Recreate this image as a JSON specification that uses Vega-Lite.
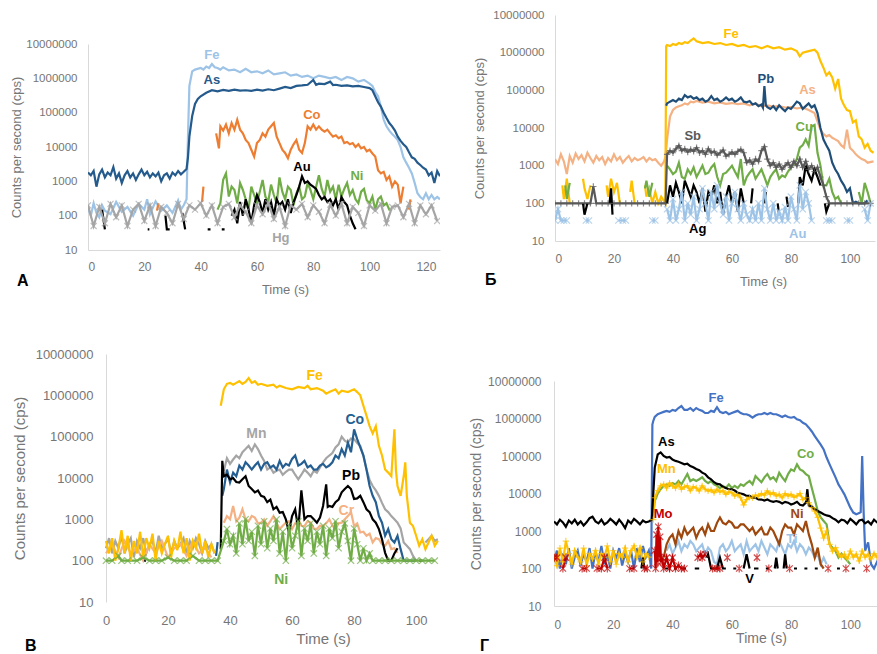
{
"$schema":"https://vega.github.io/schema/vega-lite/v6.json",
"padding":{"left":10,"top":9,"right":0,"bottom":0},
"config":{
 "view":{"stroke":null},
 "font":"Liberation Sans",
 "axis":{"grid":false,"ticks":false,"domainColor":"#d9d9d9","domainWidth":1,"labelColor":"#767676","titleColor":"#767676","labelFontSize":12,"titleFontSize":13,"titleFontWeight":"normal","labelFont":"Liberation Sans","titleFont":"Liberation Sans"},
 "legend":{"disable":true},
 "title":{"fontSize":16,"fontWeight":"bold","color":"#000000","anchor":"start","orient":"bottom","frame":"group","font":"Liberation Sans"}
},
"resolve":{"scale":{"x":"independent","y":"independent","color":"independent","shape":"independent"}},
"columns":1,
"align":"none",
"spacing":52,
"datasets":{
"A":[
{"s":"Fe","t":0,"v":160},{"s":"Fe","t":1,"v":100},{"s":"Fe","t":2,"v":230},{"s":"Fe","t":3,"v":120},{"s":"Fe","t":4,"v":90},{"s":"Fe","t":5,"v":200},{"s":"Fe","t":6,"v":140},{"s":"Fe","t":8,"v":110},{"s":"Fe","t":10,"v":250},{"s":"Fe","t":12,"v":130},{"s":"Fe","t":14,"v":180},{"s":"Fe","t":16,"v":100},{"s":"Fe","t":18,"v":220},{"s":"Fe","t":20,"v":150},{"s":"Fe","t":21,"v":300},{"s":"Fe","t":22,"v":110},{"s":"Fe","t":24,"v":260},{"s":"Fe","t":26,"v":140},{"s":"Fe","t":28,"v":200},{"s":"Fe","t":30,"v":120},{"s":"Fe","t":32,"v":280},{"s":"Fe","t":33,"v":150},{"s":"Fe","t":34,"v":200},{"s":"Fe","t":35,"v":300},{"s":"Fe","t":35.5,"v":20000},{"s":"Fe","t":36,"v":600000},{"s":"Fe","t":37,"v":1600000},{"s":"Fe","t":38,"v":1800000},{"s":"Fe","t":40,"v":2000000},{"s":"Fe","t":41,"v":1800000},{"s":"Fe","t":42,"v":2200000},{"s":"Fe","t":43,"v":2000000},{"s":"Fe","t":44,"v":2600000},{"s":"Fe","t":45,"v":2100000},{"s":"Fe","t":46,"v":2000000},{"s":"Fe","t":47,"v":1800000},{"s":"Fe","t":48,"v":2100000},{"s":"Fe","t":50,"v":1700000},{"s":"Fe","t":52,"v":1800000},{"s":"Fe","t":54,"v":1500000},{"s":"Fe","t":56,"v":1900000},{"s":"Fe","t":58,"v":1500000},{"s":"Fe","t":60,"v":1600000},{"s":"Fe","t":62,"v":1400000},{"s":"Fe","t":64,"v":1700000},{"s":"Fe","t":66,"v":1300000},{"s":"Fe","t":68,"v":1400000},{"s":"Fe","t":70,"v":1500000},{"s":"Fe","t":72,"v":1200000},{"s":"Fe","t":74,"v":1300000},{"s":"Fe","t":76,"v":1100000},{"s":"Fe","t":78,"v":1200000},{"s":"Fe","t":80,"v":1000000},{"s":"Fe","t":82,"v":1200000},{"s":"Fe","t":84,"v":1100000},{"s":"Fe","t":86,"v":1000000},{"s":"Fe","t":88,"v":1100000},{"s":"Fe","t":90,"v":900000},{"s":"Fe","t":92,"v":1100000},{"s":"Fe","t":94,"v":1000000},{"s":"Fe","t":96,"v":800000},{"s":"Fe","t":98,"v":900000},{"s":"Fe","t":100,"v":700000},{"s":"Fe","t":101,"v":600000},{"s":"Fe","t":102,"v":400000},{"s":"Fe","t":103,"v":300000},{"s":"Fe","t":104,"v":150000},{"s":"Fe","t":105,"v":63000},{"s":"Fe","t":106,"v":40000},{"s":"Fe","t":107,"v":30000},{"s":"Fe","t":108,"v":24000},{"s":"Fe","t":109,"v":20000},{"s":"Fe","t":110,"v":16000},{"s":"Fe","t":111,"v":10000},{"s":"Fe","t":112,"v":5000},{"s":"Fe","t":113,"v":3500},{"s":"Fe","t":114,"v":2500},{"s":"Fe","t":115,"v":1700},{"s":"Fe","t":116,"v":900},{"s":"Fe","t":117,"v":450},{"s":"Fe","t":118,"v":350},{"s":"Fe","t":119,"v":300},{"s":"Fe","t":120,"v":450},{"s":"Fe","t":121,"v":300},{"s":"Fe","t":122,"v":400},{"s":"Fe","t":123,"v":300},{"s":"Fe","t":124,"v":350},{"s":"Fe","t":125,"v":300},
{"s":"As","t":0,"v":1800},{"s":"As","t":1,"v":1500},{"s":"As","t":2,"v":2000},{"s":"As","t":3,"v":700},{"s":"As","t":4,"v":1600},{"s":"As","t":5,"v":2200},{"s":"As","t":6,"v":1300},{"s":"As","t":7,"v":1800},{"s":"As","t":8,"v":1500},{"s":"As","t":9,"v":2600},{"s":"As","t":10,"v":1200},{"s":"As","t":11,"v":1700},{"s":"As","t":12,"v":900},{"s":"As","t":13,"v":1500},{"s":"As","t":14,"v":2000},{"s":"As","t":15,"v":1300},{"s":"As","t":16,"v":1700},{"s":"As","t":17,"v":1100},{"s":"As","t":18,"v":1600},{"s":"As","t":19,"v":2200},{"s":"As","t":20,"v":1500},{"s":"As","t":21,"v":1900},{"s":"As","t":22,"v":1300},{"s":"As","t":23,"v":1700},{"s":"As","t":24,"v":1400},{"s":"As","t":25,"v":1800},{"s":"As","t":26,"v":1000},{"s":"As","t":27,"v":1500},{"s":"As","t":28,"v":1700},{"s":"As","t":29,"v":1200},{"s":"As","t":30,"v":1800},{"s":"As","t":31,"v":1500},{"s":"As","t":32,"v":2000},{"s":"As","t":33,"v":1600},{"s":"As","t":34,"v":1900},{"s":"As","t":35,"v":2300},{"s":"As","t":35.5,"v":5000},{"s":"As","t":36,"v":20000},{"s":"As","t":37,"v":80000},{"s":"As","t":38,"v":180000},{"s":"As","t":39,"v":250000},{"s":"As","t":40,"v":300000},{"s":"As","t":42,"v":380000},{"s":"As","t":44,"v":450000},{"s":"As","t":46,"v":420000},{"s":"As","t":48,"v":460000},{"s":"As","t":50,"v":430000},{"s":"As","t":52,"v":470000},{"s":"As","t":54,"v":440000},{"s":"As","t":56,"v":450000},{"s":"As","t":58,"v":430000},{"s":"As","t":60,"v":470000},{"s":"As","t":62,"v":440000},{"s":"As","t":64,"v":480000},{"s":"As","t":66,"v":450000},{"s":"As","t":68,"v":500000},{"s":"As","t":70,"v":560000},{"s":"As","t":72,"v":520000},{"s":"As","t":74,"v":600000},{"s":"As","t":76,"v":620000},{"s":"As","t":78,"v":650000},{"s":"As","t":80,"v":900000},{"s":"As","t":81,"v":650000},{"s":"As","t":82,"v":700000},{"s":"As","t":84,"v":680000},{"s":"As","t":86,"v":800000},{"s":"As","t":87,"v":640000},{"s":"As","t":88,"v":650000},{"s":"As","t":90,"v":600000},{"s":"As","t":92,"v":620000},{"s":"As","t":94,"v":580000},{"s":"As","t":96,"v":600000},{"s":"As","t":98,"v":560000},{"s":"As","t":100,"v":520000},{"s":"As","t":101,"v":450000},{"s":"As","t":102,"v":300000},{"s":"As","t":103,"v":200000},{"s":"As","t":104,"v":150000},{"s":"As","t":105,"v":100000},{"s":"As","t":106,"v":70000},{"s":"As","t":107,"v":50000},{"s":"As","t":108,"v":40000},{"s":"As","t":109,"v":30000},{"s":"As","t":110,"v":20000},{"s":"As","t":111,"v":15000},{"s":"As","t":112,"v":12000},{"s":"As","t":113,"v":10000},{"s":"As","t":114,"v":7000},{"s":"As","t":115,"v":5000},{"s":"As","t":116,"v":4500},{"s":"As","t":117,"v":3500},{"s":"As","t":118,"v":3000},{"s":"As","t":119,"v":2500},{"s":"As","t":120,"v":2200},{"s":"As","t":121,"v":1500},{"s":"As","t":122,"v":1800},{"s":"As","t":123,"v":900},{"s":"As","t":124,"v":2000},{"s":"As","t":125,"v":1400},
{"s":"Co","t":24,"v":null},{"s":"Co","t":24.5,"v":140},{"s":"Co","t":25,"v":230},{"s":"Co","t":25.5,"v":null},{"s":"Co","t":40,"v":null},{"s":"Co","t":40.5,"v":250},{"s":"Co","t":41,"v":700},{"s":"Co","t":41.5,"v":null},{"s":"Co","t":45.5,"v":25000},{"s":"Co","t":46.5,"v":9100},{"s":"Co","t":47,"v":40000},{"s":"Co","t":48,"v":30000},{"s":"Co","t":49,"v":45000},{"s":"Co","t":50,"v":25000},{"s":"Co","t":51,"v":50000},{"s":"Co","t":52,"v":32000},{"s":"Co","t":53,"v":62000},{"s":"Co","t":54,"v":32000},{"s":"Co","t":55,"v":25000},{"s":"Co","t":56,"v":16000},{"s":"Co","t":57,"v":13000},{"s":"Co","t":58,"v":8300},{"s":"Co","t":59,"v":5300},{"s":"Co","t":60,"v":13000},{"s":"Co","t":61,"v":16000},{"s":"Co","t":62,"v":25000},{"s":"Co","t":63,"v":20000},{"s":"Co","t":64,"v":32000},{"s":"Co","t":65,"v":40000},{"s":"Co","t":66,"v":50000},{"s":"Co","t":67,"v":20000},{"s":"Co","t":68,"v":13000},{"s":"Co","t":69,"v":8300},{"s":"Co","t":70,"v":6700},{"s":"Co","t":71,"v":4700},{"s":"Co","t":72,"v":8300},{"s":"Co","t":73,"v":12000},{"s":"Co","t":74,"v":16000},{"s":"Co","t":75,"v":8300},{"s":"Co","t":76,"v":6700},{"s":"Co","t":77,"v":13000},{"s":"Co","t":78,"v":40000},{"s":"Co","t":79,"v":32000},{"s":"Co","t":80,"v":45000},{"s":"Co","t":81,"v":32000},{"s":"Co","t":82,"v":40000},{"s":"Co","t":83,"v":32000},{"s":"Co","t":84,"v":28000},{"s":"Co","t":85,"v":32000},{"s":"Co","t":86,"v":25000},{"s":"Co","t":87,"v":20000},{"s":"Co","t":88,"v":22000},{"s":"Co","t":89,"v":18000},{"s":"Co","t":90,"v":20000},{"s":"Co","t":91,"v":13000},{"s":"Co","t":92,"v":14000},{"s":"Co","t":93,"v":12000},{"s":"Co","t":94,"v":13000},{"s":"Co","t":95,"v":10000},{"s":"Co","t":96,"v":12000},{"s":"Co","t":97,"v":9100},{"s":"Co","t":98,"v":10000},{"s":"Co","t":99,"v":7500},{"s":"Co","t":100,"v":8300},{"s":"Co","t":101,"v":6500},{"s":"Co","t":102,"v":5300},{"s":"Co","t":103,"v":2100},{"s":"Co","t":104,"v":1700},{"s":"Co","t":105,"v":1900},{"s":"Co","t":106,"v":1100},{"s":"Co","t":107,"v":1400},{"s":"Co","t":108,"v":700},{"s":"Co","t":109,"v":1000},{"s":"Co","t":110,"v":800},{"s":"Co","t":111,"v":230},{"s":"Co","t":112,"v":700},{"s":"Co","t":112.5,"v":null},{"s":"Co","t":113.5,"v":null},{"s":"Co","t":114,"v":150},{"s":"Co","t":114.5,"v":300},{"s":"Co","t":115,"v":null},
{"s":"Ni","t":46,"v":150},{"s":"Ni","t":47,"v":230},{"s":"Ni","t":48,"v":1100},{"s":"Ni","t":49,"v":1700},{"s":"Ni","t":50,"v":360},{"s":"Ni","t":51,"v":700},{"s":"Ni","t":52,"v":560},{"s":"Ni","t":53,"v":230},{"s":"Ni","t":54,"v":900},{"s":"Ni","t":55,"v":560},{"s":"Ni","t":56,"v":300},{"s":"Ni","t":57,"v":150},{"s":"Ni","t":58,"v":700},{"s":"Ni","t":59,"v":400},{"s":"Ni","t":60,"v":230},{"s":"Ni","t":61,"v":500},{"s":"Ni","t":62,"v":1100},{"s":"Ni","t":63,"v":360},{"s":"Ni","t":64,"v":250},{"s":"Ni","t":65,"v":800},{"s":"Ni","t":66,"v":400},{"s":"Ni","t":67,"v":230},{"s":"Ni","t":68,"v":1300},{"s":"Ni","t":69,"v":500},{"s":"Ni","t":70,"v":300},{"s":"Ni","t":71,"v":700},{"s":"Ni","t":72,"v":560},{"s":"Ni","t":73,"v":200},{"s":"Ni","t":74,"v":450},{"s":"Ni","t":75,"v":700},{"s":"Ni","t":76,"v":300},{"s":"Ni","t":77,"v":360},{"s":"Ni","t":78,"v":900},{"s":"Ni","t":79,"v":560},{"s":"Ni","t":80,"v":300},{"s":"Ni","t":81,"v":700},{"s":"Ni","t":82,"v":1500},{"s":"Ni","t":83,"v":600},{"s":"Ni","t":84,"v":360},{"s":"Ni","t":85,"v":1100},{"s":"Ni","t":86,"v":500},{"s":"Ni","t":87,"v":700},{"s":"Ni","t":88,"v":300},{"s":"Ni","t":89,"v":800},{"s":"Ni","t":90,"v":360},{"s":"Ni","t":91,"v":600},{"s":"Ni","t":92,"v":900},{"s":"Ni","t":93,"v":400},{"s":"Ni","t":94,"v":560},{"s":"Ni","t":95,"v":300},{"s":"Ni","t":96,"v":230},{"s":"Ni","t":97,"v":500},{"s":"Ni","t":98,"v":600},{"s":"Ni","t":99,"v":280},{"s":"Ni","t":100,"v":230},{"s":"Ni","t":101,"v":360},{"s":"Ni","t":102,"v":150},{"s":"Ni","t":103,"v":300},{"s":"Ni","t":104,"v":360},{"s":"Ni","t":105,"v":200},{"s":"Ni","t":106,"v":230},{"s":"Ni","t":107,"v":150},{"s":"Ni","t":108,"v":150},
{"s":"Au","t":4.5,"v":null},{"s":"Au","t":5,"v":150},{"s":"Au","t":6,"v":40},{"s":"Au","t":6.5,"v":null},{"s":"Au","t":21,"v":null},{"s":"Au","t":21.2,"v":40},{"s":"Au","t":21.8,"v":40},{"s":"Au","t":22,"v":null},{"s":"Au","t":27,"v":null},{"s":"Au","t":27.5,"v":100},{"s":"Au","t":28,"v":40},{"s":"Au","t":29,"v":40},{"s":"Au","t":29.5,"v":null},{"s":"Au","t":33,"v":null},{"s":"Au","t":33.5,"v":120},{"s":"Au","t":34.5,"v":40},{"s":"Au","t":35,"v":null},{"s":"Au","t":42,"v":null},{"s":"Au","t":42.5,"v":40},{"s":"Au","t":43.5,"v":40},{"s":"Au","t":44,"v":null},{"s":"Au","t":47,"v":null},{"s":"Au","t":47.5,"v":40},{"s":"Au","t":48.5,"v":40},{"s":"Au","t":49,"v":null},{"s":"Au","t":50,"v":null},{"s":"Au","t":51,"v":100},{"s":"Au","t":52,"v":150},{"s":"Au","t":53,"v":60},{"s":"Au","t":54,"v":250},{"s":"Au","t":55,"v":100},{"s":"Au","t":56,"v":300},{"s":"Au","t":57,"v":150},{"s":"Au","t":58,"v":60},{"s":"Au","t":59,"v":200},{"s":"Au","t":60,"v":400},{"s":"Au","t":61,"v":250},{"s":"Au","t":62,"v":120},{"s":"Au","t":63,"v":300},{"s":"Au","t":64,"v":150},{"s":"Au","t":65,"v":250},{"s":"Au","t":66,"v":100},{"s":"Au","t":67,"v":300},{"s":"Au","t":68,"v":200},{"s":"Au","t":69,"v":250},{"s":"Au","t":70,"v":150},{"s":"Au","t":71,"v":300},{"s":"Au","t":72,"v":120},{"s":"Au","t":73,"v":250},{"s":"Au","t":74,"v":400},{"s":"Au","t":75,"v":700},{"s":"Au","t":76,"v":1400},{"s":"Au","t":77,"v":900},{"s":"Au","t":78,"v":1000},{"s":"Au","t":79,"v":800},{"s":"Au","t":80,"v":700},{"s":"Au","t":81,"v":600},{"s":"Au","t":82,"v":400},{"s":"Au","t":83,"v":300},{"s":"Au","t":84,"v":350},{"s":"Au","t":85,"v":250},{"s":"Au","t":86,"v":300},{"s":"Au","t":87,"v":200},{"s":"Au","t":88,"v":300},{"s":"Au","t":89,"v":150},{"s":"Au","t":90,"v":350},{"s":"Au","t":91,"v":250},{"s":"Au","t":92,"v":200},{"s":"Au","t":93,"v":100},{"s":"Au","t":94,"v":60},{"s":"Au","t":95,"v":40},{"s":"Au","t":96,"v":null},{"s":"Au","t":98,"v":null},{"s":"Au","t":98.5,"v":40},{"s":"Au","t":99,"v":null},{"s":"Au","t":101,"v":null},{"s":"Au","t":101.5,"v":40},{"s":"Au","t":102,"v":null},
{"s":"Hg","t":0,"v":200},{"s":"Hg","t":2,"v":50},{"s":"Hg","t":4,"v":180},{"s":"Hg","t":6,"v":60},{"s":"Hg","t":8,"v":220},{"s":"Hg","t":10,"v":90},{"s":"Hg","t":12,"v":200},{"s":"Hg","t":14,"v":50},{"s":"Hg","t":16,"v":150},{"s":"Hg","t":18,"v":220},{"s":"Hg","t":20,"v":70},{"s":"Hg","t":22,"v":200},{"s":"Hg","t":24,"v":50},{"s":"Hg","t":26,"v":180},{"s":"Hg","t":28,"v":120},{"s":"Hg","t":30,"v":60},{"s":"Hg","t":32,"v":220},{"s":"Hg","t":34,"v":80},{"s":"Hg","t":36,"v":200},{"s":"Hg","t":38,"v":150},{"s":"Hg","t":40,"v":230},{"s":"Hg","t":42,"v":100},{"s":"Hg","t":44,"v":200},{"s":"Hg","t":46,"v":60},{"s":"Hg","t":48,"v":180},{"s":"Hg","t":50,"v":220},{"s":"Hg","t":52,"v":90},{"s":"Hg","t":54,"v":200},{"s":"Hg","t":56,"v":130},{"s":"Hg","t":58,"v":60},{"s":"Hg","t":60,"v":200},{"s":"Hg","t":62,"v":110},{"s":"Hg","t":64,"v":230},{"s":"Hg","t":66,"v":80},{"s":"Hg","t":68,"v":180},{"s":"Hg","t":70,"v":50},{"s":"Hg","t":72,"v":200},{"s":"Hg","t":74,"v":150},{"s":"Hg","t":76,"v":220},{"s":"Hg","t":78,"v":90},{"s":"Hg","t":80,"v":200},{"s":"Hg","t":82,"v":130},{"s":"Hg","t":84,"v":60},{"s":"Hg","t":86,"v":210},{"s":"Hg","t":88,"v":100},{"s":"Hg","t":90,"v":220},{"s":"Hg","t":92,"v":60},{"s":"Hg","t":94,"v":180},{"s":"Hg","t":96,"v":120},{"s":"Hg","t":98,"v":50},{"s":"Hg","t":100,"v":200},{"s":"Hg","t":102,"v":140},{"s":"Hg","t":104,"v":220},{"s":"Hg","t":106,"v":60},{"s":"Hg","t":108,"v":180},{"s":"Hg","t":110,"v":200},{"s":"Hg","t":112,"v":90},{"s":"Hg","t":114,"v":220},{"s":"Hg","t":116,"v":60},{"s":"Hg","t":118,"v":200},{"s":"Hg","t":120,"v":110},{"s":"Hg","t":122,"v":200},{"s":"Hg","t":124,"v":70}
],
"LA":[{"s":"Fe","t":44,"v":4900000},{"s":"As","t":44,"v":900000},{"s":"Co","t":79.5,"v":87000},{"s":"Au","t":76,"v":2700},{"s":"Ni","t":95.5,"v":1400},{"s":"Hg","t":68.5,"v":22}],
"B":[
{"s":"As","t":0,"v":1500},{"s":"As","t":1,"v":1100},{"s":"As","t":2,"v":2000},{"s":"As","t":3,"v":1300},{"s":"As","t":4,"v":600},{"s":"As","t":5,"v":1800},{"s":"As","t":6,"v":1200},{"s":"As","t":7,"v":2100},{"s":"As","t":8,"v":1500},{"s":"As","t":9,"v":1900},{"s":"As","t":10,"v":1300},{"s":"As","t":11,"v":2200},{"s":"As","t":12,"v":1600},{"s":"As","t":13,"v":1200},{"s":"As","t":14,"v":1800},{"s":"As","t":15,"v":1400},{"s":"As","t":16,"v":1700},{"s":"As","t":17,"v":1100},{"s":"As","t":18,"v":1600},{"s":"As","t":19,"v":1300},{"s":"As","t":20,"v":2000},{"s":"As","t":21,"v":1400},{"s":"As","t":22,"v":1700},{"s":"As","t":23,"v":1200},{"s":"As","t":24,"v":1500},{"s":"As","t":25,"v":1800},{"s":"As","t":26,"v":1300},{"s":"As","t":27,"v":1600},{"s":"As","t":28,"v":1400},{"s":"As","t":29,"v":1500},{"s":"As","t":30,"v":1700},{"s":"As","t":31,"v":1300},{"s":"As","t":32,"v":1600},{"s":"As","t":33,"v":1400},{"s":"As","t":34,"v":1500},{"s":"As","t":35,"v":1200},{"s":"As","t":36,"v":1000},{"s":"As","t":37,"v":1300},{"s":"As","t":37.5,"v":1800},{"s":"As","t":38,"v":5000},{"s":"As","t":39,"v":20000},{"s":"As","t":40,"v":30000},{"s":"As","t":41,"v":35000},{"s":"As","t":42,"v":38000},{"s":"As","t":43,"v":40000},{"s":"As","t":44,"v":45000},{"s":"As","t":45,"v":42000},{"s":"As","t":46,"v":50000},{"s":"As","t":47,"v":48000},{"s":"As","t":48,"v":52000},{"s":"As","t":50,"v":47000},{"s":"As","t":52,"v":50000},{"s":"As","t":54,"v":45000},{"s":"As","t":56,"v":48000},{"s":"As","t":58,"v":44000},{"s":"As","t":60,"v":46000},{"s":"As","t":62,"v":43000},{"s":"As","t":64,"v":45000},{"s":"As","t":66,"v":40000},{"s":"As","t":68,"v":44000},{"s":"As","t":70,"v":38000},{"s":"As","t":72,"v":40000},{"s":"As","t":74,"v":37000},{"s":"As","t":76,"v":38000},{"s":"As","t":78,"v":35000},{"s":"As","t":80,"v":36000},{"s":"As","t":82,"v":33000},{"s":"As","t":84,"v":35000},{"s":"As","t":86,"v":30000},{"s":"As","t":88,"v":25000},{"s":"As","t":89,"v":15000},{"s":"As","t":90,"v":9000},{"s":"As","t":91,"v":7000},{"s":"As","t":92,"v":6000},{"s":"As","t":93,"v":6500},{"s":"As","t":94,"v":5500},{"s":"As","t":95,"v":5000},{"s":"As","t":96,"v":4500},{"s":"As","t":97,"v":3500},{"s":"As","t":98,"v":3000},{"s":"As","t":99,"v":9000},{"s":"As","t":100,"v":3000},{"s":"As","t":101,"v":2500},{"s":"As","t":102,"v":2000},{"s":"As","t":103,"v":1700},{"s":"As","t":104,"v":1500},{"s":"As","t":105,"v":1400},{"s":"As","t":106,"v":1200},{"s":"As","t":108,"v":1300},
{"s":"Fe","t":2,"v":null},{"s":"Fe","t":2.5,"v":300},{"s":"Fe","t":3,"v":130},{"s":"Fe","t":4,"v":450},{"s":"Fe","t":5,"v":100},{"s":"Fe","t":5.5,"v":null},{"s":"Fe","t":9,"v":null},{"s":"Fe","t":9.5,"v":450},{"s":"Fe","t":10,"v":250},{"s":"Fe","t":11,"v":130},{"s":"Fe","t":12,"v":300},{"s":"Fe","t":12.5,"v":null},{"s":"Fe","t":17,"v":null},{"s":"Fe","t":17.5,"v":300},{"s":"Fe","t":18,"v":150},{"s":"Fe","t":19,"v":450},{"s":"Fe","t":20,"v":200},{"s":"Fe","t":21,"v":350},{"s":"Fe","t":22,"v":100},{"s":"Fe","t":22.5,"v":null},{"s":"Fe","t":25,"v":null},{"s":"Fe","t":25.5,"v":200},{"s":"Fe","t":26,"v":400},{"s":"Fe","t":27,"v":100},{"s":"Fe","t":27.5,"v":null},{"s":"Fe","t":30,"v":null},{"s":"Fe","t":30.5,"v":300},{"s":"Fe","t":31,"v":150},{"s":"Fe","t":32,"v":250},{"s":"Fe","t":33,"v":100},{"s":"Fe","t":34,"v":200},{"s":"Fe","t":35,"v":100},{"s":"Fe","t":36,"v":150},{"s":"Fe","t":37.4,"v":100},{"s":"Fe","t":37.7,"v":1500000},{"s":"Fe","t":38,"v":1600000},{"s":"Fe","t":39,"v":1500000},{"s":"Fe","t":40,"v":1700000},{"s":"Fe","t":41,"v":1600000},{"s":"Fe","t":42,"v":1800000},{"s":"Fe","t":43,"v":1700000},{"s":"Fe","t":44,"v":1900000},{"s":"Fe","t":45,"v":1800000},{"s":"Fe","t":46,"v":2100000},{"s":"Fe","t":47,"v":2400000},{"s":"Fe","t":48,"v":2000000},{"s":"Fe","t":49,"v":1900000},{"s":"Fe","t":50,"v":1800000},{"s":"Fe","t":52,"v":1900000},{"s":"Fe","t":54,"v":1700000},{"s":"Fe","t":56,"v":1800000},{"s":"Fe","t":58,"v":1600000},{"s":"Fe","t":60,"v":1700000},{"s":"Fe","t":62,"v":1500000},{"s":"Fe","t":64,"v":1600000},{"s":"Fe","t":66,"v":1400000},{"s":"Fe","t":68,"v":1500000},{"s":"Fe","t":70,"v":1300000},{"s":"Fe","t":72,"v":1500000},{"s":"Fe","t":74,"v":1300000},{"s":"Fe","t":76,"v":1400000},{"s":"Fe","t":78,"v":1200000},{"s":"Fe","t":80,"v":1300000},{"s":"Fe","t":82,"v":1100000},{"s":"Fe","t":83,"v":800000},{"s":"Fe","t":84,"v":1000000},{"s":"Fe","t":86,"v":1100000},{"s":"Fe","t":88,"v":1200000},{"s":"Fe","t":89,"v":1000000},{"s":"Fe","t":90,"v":600000},{"s":"Fe","t":91,"v":400000},{"s":"Fe","t":92,"v":250000},{"s":"Fe","t":93,"v":300000},{"s":"Fe","t":94,"v":220000},{"s":"Fe","t":95,"v":110000},{"s":"Fe","t":96,"v":200000},{"s":"Fe","t":97,"v":60000},{"s":"Fe","t":98,"v":40000},{"s":"Fe","t":99,"v":30000},{"s":"Fe","t":100,"v":28000},{"s":"Fe","t":101,"v":14000},{"s":"Fe","t":102,"v":16000},{"s":"Fe","t":103,"v":6000},{"s":"Fe","t":104,"v":5000},{"s":"Fe","t":105,"v":3000},{"s":"Fe","t":106,"v":3800},{"s":"Fe","t":107,"v":2500},{"s":"Fe","t":108,"v":2200},
{"s":"Pb","t":37.7,"v":39000},{"s":"Pb","t":38,"v":45000},{"s":"Pb","t":39,"v":50000},{"s":"Pb","t":40,"v":55000},{"s":"Pb","t":41,"v":50000},{"s":"Pb","t":42,"v":60000},{"s":"Pb","t":43,"v":55000},{"s":"Pb","t":44,"v":75000},{"s":"Pb","t":45,"v":65000},{"s":"Pb","t":46,"v":70000},{"s":"Pb","t":47,"v":60000},{"s":"Pb","t":48,"v":65000},{"s":"Pb","t":49,"v":55000},{"s":"Pb","t":50,"v":60000},{"s":"Pb","t":51,"v":50000},{"s":"Pb","t":52,"v":55000},{"s":"Pb","t":53,"v":70000},{"s":"Pb","t":54,"v":55000},{"s":"Pb","t":55,"v":60000},{"s":"Pb","t":56,"v":50000},{"s":"Pb","t":57,"v":55000},{"s":"Pb","t":58,"v":65000},{"s":"Pb","t":59,"v":55000},{"s":"Pb","t":60,"v":60000},{"s":"Pb","t":61,"v":50000},{"s":"Pb","t":62,"v":55000},{"s":"Pb","t":63,"v":65000},{"s":"Pb","t":64,"v":50000},{"s":"Pb","t":65,"v":48000},{"s":"Pb","t":66,"v":52000},{"s":"Pb","t":67,"v":42000},{"s":"Pb","t":68,"v":45000},{"s":"Pb","t":69,"v":38000},{"s":"Pb","t":70,"v":42000},{"s":"Pb","t":70.5,"v":35000},{"s":"Pb","t":71,"v":130000},{"s":"Pb","t":71.5,"v":40000},{"s":"Pb","t":72,"v":36000},{"s":"Pb","t":73,"v":32000},{"s":"Pb","t":74,"v":38000},{"s":"Pb","t":75,"v":30000},{"s":"Pb","t":76,"v":40000},{"s":"Pb","t":77,"v":33000},{"s":"Pb","t":78,"v":28000},{"s":"Pb","t":79,"v":35000},{"s":"Pb","t":80,"v":32000},{"s":"Pb","t":81,"v":40000},{"s":"Pb","t":82,"v":50000},{"s":"Pb","t":83,"v":45000},{"s":"Pb","t":84,"v":32000},{"s":"Pb","t":85,"v":38000},{"s":"Pb","t":86,"v":45000},{"s":"Pb","t":87,"v":35000},{"s":"Pb","t":88,"v":40000},{"s":"Pb","t":89,"v":25000},{"s":"Pb","t":90,"v":10000},{"s":"Pb","t":91,"v":5000},{"s":"Pb","t":92,"v":3500},{"s":"Pb","t":93,"v":2500},{"s":"Pb","t":94,"v":1200},{"s":"Pb","t":95,"v":800},{"s":"Pb","t":96,"v":600},{"s":"Pb","t":97,"v":400},{"s":"Pb","t":98,"v":300},{"s":"Pb","t":99,"v":200},{"s":"Pb","t":100,"v":250},{"s":"Pb","t":101,"v":100},{"s":"Pb","t":102,"v":110},{"s":"Pb","t":103,"v":100},{"s":"Pb","t":105,"v":100},{"s":"Pb","t":106,"v":120},
{"s":"Cu","t":3,"v":null},{"s":"Cu","t":3.5,"v":300},{"s":"Cu","t":4,"v":130},{"s":"Cu","t":5,"v":350},{"s":"Cu","t":5.5,"v":null},{"s":"Cu","t":30,"v":null},{"s":"Cu","t":30.5,"v":250},{"s":"Cu","t":31,"v":400},{"s":"Cu","t":32,"v":150},{"s":"Cu","t":33,"v":350},{"s":"Cu","t":33.5,"v":null},{"s":"Cu","t":37.5,"v":null},{"s":"Cu","t":38,"v":1000},{"s":"Cu","t":39,"v":800},{"s":"Cu","t":40,"v":600},{"s":"Cu","t":41,"v":700},{"s":"Cu","t":42,"v":1200},{"s":"Cu","t":43,"v":500},{"s":"Cu","t":44,"v":450},{"s":"Cu","t":45,"v":800},{"s":"Cu","t":46,"v":600},{"s":"Cu","t":47,"v":900},{"s":"Cu","t":48,"v":500},{"s":"Cu","t":49,"v":700},{"s":"Cu","t":50,"v":1000},{"s":"Cu","t":51,"v":600},{"s":"Cu","t":52,"v":650},{"s":"Cu","t":53,"v":900},{"s":"Cu","t":54,"v":1100},{"s":"Cu","t":55,"v":500},{"s":"Cu","t":56,"v":300},{"s":"Cu","t":57,"v":600},{"s":"Cu","t":58,"v":650},{"s":"Cu","t":59,"v":800},{"s":"Cu","t":60,"v":1000},{"s":"Cu","t":61,"v":700},{"s":"Cu","t":62,"v":500},{"s":"Cu","t":63,"v":1500},{"s":"Cu","t":64,"v":300},{"s":"Cu","t":65,"v":500},{"s":"Cu","t":66,"v":650},{"s":"Cu","t":67,"v":800},{"s":"Cu","t":68,"v":450},{"s":"Cu","t":69,"v":600},{"s":"Cu","t":70,"v":800},{"s":"Cu","t":71,"v":500},{"s":"Cu","t":72,"v":300},{"s":"Cu","t":73,"v":500},{"s":"Cu","t":74,"v":650},{"s":"Cu","t":75,"v":800},{"s":"Cu","t":76,"v":450},{"s":"Cu","t":77,"v":550},{"s":"Cu","t":78,"v":500},{"s":"Cu","t":79,"v":700},{"s":"Cu","t":80,"v":900},{"s":"Cu","t":81,"v":1100},{"s":"Cu","t":82,"v":1500},{"s":"Cu","t":83,"v":3000},{"s":"Cu","t":84,"v":3500},{"s":"Cu","t":85,"v":5000},{"s":"Cu","t":86,"v":3400},{"s":"Cu","t":87,"v":11000},{"s":"Cu","t":88,"v":12000},{"s":"Cu","t":89,"v":2200},{"s":"Cu","t":90,"v":1000},{"s":"Cu","t":91,"v":300},{"s":"Cu","t":92,"v":300},{"s":"Cu","t":93,"v":450},{"s":"Cu","t":94,"v":200},{"s":"Cu","t":95,"v":130},{"s":"Cu","t":96,"v":150},{"s":"Cu","t":97,"v":100},{"s":"Cu","t":98,"v":null},{"s":"Cu","t":102,"v":null},{"s":"Cu","t":103,"v":200},{"s":"Cu","t":104,"v":100},{"s":"Cu","t":105,"v":350},{"s":"Cu","t":106,"v":200},{"s":"Cu","t":107,"v":100},
{"s":"Sb","t":0,"v":100},{"s":"Sb","t":2,"v":100},{"s":"Sb","t":4,"v":100},{"s":"Sb","t":6,"v":100},{"s":"Sb","t":8,"v":100},{"s":"Sb","t":10,"v":100},{"s":"Sb","t":12,"v":100},{"s":"Sb","t":13,"v":280},{"s":"Sb","t":14,"v":100},{"s":"Sb","t":16,"v":100},{"s":"Sb","t":18,"v":100},{"s":"Sb","t":20,"v":100},{"s":"Sb","t":22,"v":100},{"s":"Sb","t":24,"v":100},{"s":"Sb","t":26,"v":100},{"s":"Sb","t":28,"v":100},{"s":"Sb","t":30,"v":100},{"s":"Sb","t":32,"v":100},{"s":"Sb","t":34,"v":100},{"s":"Sb","t":36,"v":100},{"s":"Sb","t":37.5,"v":100},{"s":"Sb","t":38,"v":2000},{"s":"Sb","t":39,"v":2500},{"s":"Sb","t":40,"v":2200},{"s":"Sb","t":41,"v":2800},{"s":"Sb","t":42,"v":3400},{"s":"Sb","t":43,"v":2500},{"s":"Sb","t":44,"v":2800},{"s":"Sb","t":45,"v":2300},{"s":"Sb","t":46,"v":2700},{"s":"Sb","t":47,"v":2400},{"s":"Sb","t":48,"v":3000},{"s":"Sb","t":49,"v":2200},{"s":"Sb","t":50,"v":2500},{"s":"Sb","t":51,"v":2000},{"s":"Sb","t":52,"v":2800},{"s":"Sb","t":53,"v":2200},{"s":"Sb","t":54,"v":2400},{"s":"Sb","t":55,"v":1900},{"s":"Sb","t":56,"v":2200},{"s":"Sb","t":57,"v":2600},{"s":"Sb","t":58,"v":1800},{"s":"Sb","t":59,"v":2000},{"s":"Sb","t":60,"v":2300},{"s":"Sb","t":61,"v":2000},{"s":"Sb","t":62,"v":2400},{"s":"Sb","t":63,"v":2700},{"s":"Sb","t":64,"v":2200},{"s":"Sb","t":65,"v":1200},{"s":"Sb","t":66,"v":1400},{"s":"Sb","t":67,"v":1100},{"s":"Sb","t":68,"v":1500},{"s":"Sb","t":69,"v":1300},{"s":"Sb","t":70,"v":2500},{"s":"Sb","t":71,"v":3200},{"s":"Sb","t":72,"v":1500},{"s":"Sb","t":73,"v":1000},{"s":"Sb","t":74,"v":1200},{"s":"Sb","t":75,"v":900},{"s":"Sb","t":76,"v":1100},{"s":"Sb","t":77,"v":800},{"s":"Sb","t":78,"v":1000},{"s":"Sb","t":79,"v":1200},{"s":"Sb","t":80,"v":900},{"s":"Sb","t":81,"v":1300},{"s":"Sb","t":82,"v":1000},{"s":"Sb","t":83,"v":1500},{"s":"Sb","t":84,"v":900},{"s":"Sb","t":85,"v":1300},{"s":"Sb","t":86,"v":800},{"s":"Sb","t":87,"v":1000},{"s":"Sb","t":88,"v":700},{"s":"Sb","t":89,"v":900},{"s":"Sb","t":90,"v":500},{"s":"Sb","t":91,"v":300},{"s":"Sb","t":92,"v":150},{"s":"Sb","t":93,"v":100},{"s":"Sb","t":95,"v":100},{"s":"Sb","t":97,"v":100},{"s":"Sb","t":99,"v":100},{"s":"Sb","t":101,"v":100},{"s":"Sb","t":103,"v":100},{"s":"Sb","t":105,"v":100},{"s":"Sb","t":107,"v":100},
{"s":"Ag","t":9,"v":null},{"s":"Ag","t":9.5,"v":100},{"s":"Ag","t":10,"v":50},{"s":"Ag","t":11,"v":100},{"s":"Ag","t":11.5,"v":null},{"s":"Ag","t":18,"v":null},{"s":"Ag","t":18.5,"v":100},{"s":"Ag","t":19,"v":250},{"s":"Ag","t":19.5,"v":50},{"s":"Ag","t":20,"v":null},{"s":"Ag","t":37.5,"v":null},{"s":"Ag","t":38,"v":100},{"s":"Ag","t":39,"v":300},{"s":"Ag","t":40,"v":150},{"s":"Ag","t":41,"v":350},{"s":"Ag","t":42,"v":200},{"s":"Ag","t":43,"v":100},{"s":"Ag","t":44,"v":400},{"s":"Ag","t":45,"v":250},{"s":"Ag","t":46,"v":150},{"s":"Ag","t":47,"v":300},{"s":"Ag","t":48,"v":200},{"s":"Ag","t":49,"v":100},{"s":"Ag","t":50,"v":250},{"s":"Ag","t":51,"v":60},{"s":"Ag","t":52,"v":200},{"s":"Ag","t":53,"v":150},{"s":"Ag","t":54,"v":300},{"s":"Ag","t":55,"v":100},{"s":"Ag","t":56,"v":200},{"s":"Ag","t":57,"v":50},{"s":"Ag","t":58,"v":150},{"s":"Ag","t":59,"v":300},{"s":"Ag","t":60,"v":100},{"s":"Ag","t":61,"v":200},{"s":"Ag","t":62,"v":60},{"s":"Ag","t":63,"v":250},{"s":"Ag","t":64,"v":100},{"s":"Ag","t":65,"v":null},{"s":"Ag","t":66.5,"v":100},{"s":"Ag","t":67,"v":250},{"s":"Ag","t":67.5,"v":null},{"s":"Ag","t":70.5,"v":null},{"s":"Ag","t":71,"v":100},{"s":"Ag","t":71.5,"v":200},{"s":"Ag","t":72,"v":null},{"s":"Ag","t":75,"v":null},{"s":"Ag","t":75.5,"v":100},{"s":"Ag","t":76,"v":50},{"s":"Ag","t":76.5,"v":null},{"s":"Ag","t":78,"v":null},{"s":"Ag","t":78.5,"v":150},{"s":"Ag","t":79,"v":80},{"s":"Ag","t":80,"v":null},{"s":"Ag","t":82,"v":null},{"s":"Ag","t":82.5,"v":100},{"s":"Ag","t":83,"v":500},{"s":"Ag","t":84,"v":300},{"s":"Ag","t":85,"v":1000},{"s":"Ag","t":86,"v":600},{"s":"Ag","t":87,"v":400},{"s":"Ag","t":88,"v":800},{"s":"Ag","t":89,"v":500},{"s":"Ag","t":90,"v":300},{"s":"Ag","t":90.5,"v":null},{"s":"Ag","t":91,"v":null},{"s":"Ag","t":91.5,"v":100},{"s":"Ag","t":92,"v":60},{"s":"Ag","t":93,"v":100},{"s":"Ag","t":93.5,"v":null},
{"s":"Au","t":0,"v":35},{"s":"Au","t":1,"v":70},{"s":"Au","t":2,"v":35},{"s":"Au","t":3,"v":35},{"s":"Au","t":4,"v":35},{"s":"Au","t":6,"v":null},{"s":"Au","t":10,"v":null},{"s":"Au","t":10.5,"v":35},{"s":"Au","t":11.5,"v":35},{"s":"Au","t":12,"v":null},{"s":"Au","t":21,"v":null},{"s":"Au","t":21.5,"v":35},{"s":"Au","t":23,"v":35},{"s":"Au","t":24,"v":35},{"s":"Au","t":25,"v":null},{"s":"Au","t":32,"v":null},{"s":"Au","t":33,"v":35},{"s":"Au","t":34,"v":35},{"s":"Au","t":35,"v":null},{"s":"Au","t":37,"v":null},{"s":"Au","t":38,"v":70},{"s":"Au","t":39,"v":35},{"s":"Au","t":40,"v":130},{"s":"Au","t":41,"v":35},{"s":"Au","t":42,"v":70},{"s":"Au","t":43,"v":200},{"s":"Au","t":44,"v":35},{"s":"Au","t":45,"v":100},{"s":"Au","t":46,"v":50},{"s":"Au","t":47,"v":150},{"s":"Au","t":48,"v":35},{"s":"Au","t":49,"v":70},{"s":"Au","t":50,"v":250},{"s":"Au","t":51,"v":100},{"s":"Au","t":52,"v":35},{"s":"Au","t":53,"v":200},{"s":"Au","t":54,"v":70},{"s":"Au","t":55,"v":300},{"s":"Au","t":56,"v":100},{"s":"Au","t":57,"v":50},{"s":"Au","t":58,"v":150},{"s":"Au","t":59,"v":35},{"s":"Au","t":60,"v":100},{"s":"Au","t":61,"v":200},{"s":"Au","t":62,"v":70},{"s":"Au","t":63,"v":35},{"s":"Au","t":64,"v":100},{"s":"Au","t":65,"v":50},{"s":"Au","t":66,"v":35},{"s":"Au","t":67,"v":70},{"s":"Au","t":68,"v":35},{"s":"Au","t":69,"v":100},{"s":"Au","t":70,"v":35},{"s":"Au","t":71,"v":250},{"s":"Au","t":72,"v":70},{"s":"Au","t":73,"v":35},{"s":"Au","t":74,"v":100},{"s":"Au","t":75,"v":35},{"s":"Au","t":76,"v":60},{"s":"Au","t":77,"v":35},{"s":"Au","t":78,"v":80},{"s":"Au","t":79,"v":35},{"s":"Au","t":80,"v":150},{"s":"Au","t":81,"v":70},{"s":"Au","t":82,"v":35},{"s":"Au","t":83,"v":300},{"s":"Au","t":84,"v":70},{"s":"Au","t":85,"v":200},{"s":"Au","t":86,"v":100},{"s":"Au","t":87,"v":35},{"s":"Au","t":88,"v":null},{"s":"Au","t":91,"v":null},{"s":"Au","t":92,"v":35},{"s":"Au","t":93,"v":35},{"s":"Au","t":94,"v":35},{"s":"Au","t":95,"v":null},{"s":"Au","t":98,"v":null},{"s":"Au","t":99,"v":35},{"s":"Au","t":100,"v":35},{"s":"Au","t":101,"v":null},{"s":"Au","t":104,"v":null},{"s":"Au","t":105,"v":70},{"s":"Au","t":106,"v":35},{"s":"Au","t":107,"v":100}
],
"LB":[{"s":"Fe","t":59.7,"v":3100000},{"s":"Pb","t":71.5,"v":200000},{"s":"As","t":85.6,"v":100000},{"s":"Cu","t":84.5,"v":10500},{"s":"Sb","t":46.7,"v":6300},{"s":"Ag","t":48.4,"v":21},{"s":"Au","t":82.3,"v":15.5}],
"V":[
{"s":"Mn","t":0,"v":200},{"s":"Mn","t":1,"v":350},{"s":"Mn","t":2,"v":150},{"s":"Mn","t":3,"v":300},{"s":"Mn","t":4,"v":200},{"s":"Mn","t":5,"v":400},{"s":"Mn","t":6,"v":150},{"s":"Mn","t":7,"v":250},{"s":"Mn","t":8,"v":350},{"s":"Mn","t":9,"v":120},{"s":"Mn","t":10,"v":300},{"s":"Mn","t":11,"v":200},{"s":"Mn","t":12,"v":350},{"s":"Mn","t":13,"v":150},{"s":"Mn","t":14,"v":250},{"s":"Mn","t":15,"v":300},{"s":"Mn","t":16,"v":150},{"s":"Mn","t":17,"v":400},{"s":"Mn","t":18,"v":200},{"s":"Mn","t":19,"v":250},{"s":"Mn","t":20,"v":350},{"s":"Mn","t":21,"v":150},{"s":"Mn","t":22,"v":300},{"s":"Mn","t":23,"v":200},{"s":"Mn","t":24,"v":250},{"s":"Mn","t":25,"v":350},{"s":"Mn","t":26,"v":150},{"s":"Mn","t":27,"v":300},{"s":"Mn","t":28,"v":200},{"s":"Mn","t":29,"v":350},{"s":"Mn","t":30,"v":250},{"s":"Mn","t":31,"v":150},{"s":"Mn","t":32,"v":300},{"s":"Mn","t":33,"v":200},{"s":"Mn","t":34,"v":250},{"s":"Mn","t":35,"v":150},{"s":"Mn","t":36,"v":null},{"s":"Mn","t":38,"v":15000},{"s":"Mn","t":39,"v":30000},{"s":"Mn","t":40,"v":22000},{"s":"Mn","t":41,"v":28000},{"s":"Mn","t":42,"v":35000},{"s":"Mn","t":43,"v":30000},{"s":"Mn","t":44,"v":42000},{"s":"Mn","t":45,"v":50000},{"s":"Mn","t":46,"v":60000},{"s":"Mn","t":47,"v":45000},{"s":"Mn","t":48,"v":65000},{"s":"Mn","t":49,"v":50000},{"s":"Mn","t":50,"v":35000},{"s":"Mn","t":51,"v":26000},{"s":"Mn","t":52,"v":16000},{"s":"Mn","t":53,"v":18000},{"s":"Mn","t":54,"v":13500},{"s":"Mn","t":55,"v":15000},{"s":"Mn","t":56,"v":16000},{"s":"Mn","t":57,"v":12000},{"s":"Mn","t":58,"v":14000},{"s":"Mn","t":59,"v":16000},{"s":"Mn","t":60,"v":16000},{"s":"Mn","t":61,"v":12000},{"s":"Mn","t":62,"v":9300},{"s":"Mn","t":63,"v":12000},{"s":"Mn","t":64,"v":16000},{"s":"Mn","t":65,"v":13500},{"s":"Mn","t":66,"v":11000},{"s":"Mn","t":67,"v":15000},{"s":"Mn","t":68,"v":13500},{"s":"Mn","t":69,"v":18000},{"s":"Mn","t":70,"v":24000},{"s":"Mn","t":71,"v":30000},{"s":"Mn","t":72,"v":35000},{"s":"Mn","t":73,"v":40000},{"s":"Mn","t":74,"v":55000},{"s":"Mn","t":75,"v":65000},{"s":"Mn","t":76,"v":100000},{"s":"Mn","t":77,"v":80000},{"s":"Mn","t":78,"v":72000},{"s":"Mn","t":79,"v":90000},{"s":"Mn","t":80,"v":87000},{"s":"Mn","t":81,"v":70000},{"s":"Mn","t":82,"v":60000},{"s":"Mn","t":83,"v":35000},{"s":"Mn","t":84,"v":16000},{"s":"Mn","t":85,"v":9000},{"s":"Mn","t":86,"v":6400},{"s":"Mn","t":87,"v":5000},{"s":"Mn","t":88,"v":3700},{"s":"Mn","t":89,"v":2500},{"s":"Mn","t":90,"v":1750},{"s":"Mn","t":91,"v":1500},{"s":"Mn","t":92,"v":1200},{"s":"Mn","t":93,"v":1000},{"s":"Mn","t":94,"v":830},{"s":"Mn","t":95,"v":600},{"s":"Mn","t":96,"v":275},{"s":"Mn","t":97,"v":230},{"s":"Mn","t":98,"v":190},{"s":"Mn","t":99,"v":130},{"s":"Mn","t":100,"v":100},{"s":"Mn","t":101,"v":null},{"s":"Mn","t":102.5,"v":null},{"s":"Mn","t":103,"v":275},{"s":"Mn","t":104,"v":330},{"s":"Mn","t":105,"v":400},{"s":"Mn","t":106,"v":300},{"s":"Mn","t":107,"v":330},
{"s":"Co","t":35,"v":null},{"s":"Co","t":35.5,"v":130},{"s":"Co","t":36,"v":280},{"s":"Co","t":36.5,"v":null},{"s":"Co","t":37.5,"v":3700},{"s":"Co","t":38,"v":5400},{"s":"Co","t":39,"v":16000},{"s":"Co","t":40,"v":7800},{"s":"Co","t":41,"v":13500},{"s":"Co","t":42,"v":11000},{"s":"Co","t":43,"v":20000},{"s":"Co","t":44,"v":16000},{"s":"Co","t":45,"v":24000},{"s":"Co","t":46,"v":20000},{"s":"Co","t":47,"v":16000},{"s":"Co","t":48,"v":20000},{"s":"Co","t":49,"v":24000},{"s":"Co","t":50,"v":16000},{"s":"Co","t":51,"v":22000},{"s":"Co","t":52,"v":24000},{"s":"Co","t":53,"v":18000},{"s":"Co","t":54,"v":20000},{"s":"Co","t":55,"v":16000},{"s":"Co","t":56,"v":26000},{"s":"Co","t":57,"v":18000},{"s":"Co","t":58,"v":22000},{"s":"Co","t":59,"v":20000},{"s":"Co","t":60,"v":29000},{"s":"Co","t":61,"v":35000},{"s":"Co","t":62,"v":20000},{"s":"Co","t":63,"v":22000},{"s":"Co","t":64,"v":26000},{"s":"Co","t":65,"v":18000},{"s":"Co","t":66,"v":20000},{"s":"Co","t":67,"v":16000},{"s":"Co","t":68,"v":16000},{"s":"Co","t":69,"v":20000},{"s":"Co","t":70,"v":22000},{"s":"Co","t":71,"v":18000},{"s":"Co","t":72,"v":20000},{"s":"Co","t":73,"v":24000},{"s":"Co","t":74,"v":35000},{"s":"Co","t":75,"v":30000},{"s":"Co","t":76,"v":50000},{"s":"Co","t":77,"v":35000},{"s":"Co","t":78,"v":72000},{"s":"Co","t":79,"v":42000},{"s":"Co","t":80,"v":150000},{"s":"Co","t":81,"v":87000},{"s":"Co","t":82,"v":55000},{"s":"Co","t":83,"v":35000},{"s":"Co","t":84,"v":16000},{"s":"Co","t":85,"v":6400},{"s":"Co","t":86,"v":3700},{"s":"Co","t":87,"v":2600},{"s":"Co","t":88,"v":1200},{"s":"Co","t":89,"v":830},{"s":"Co","t":90,"v":400},{"s":"Co","t":91,"v":580},{"s":"Co","t":92,"v":330},{"s":"Co","t":93,"v":275},{"s":"Co","t":94,"v":400},{"s":"Co","t":95,"v":190},{"s":"Co","t":96,"v":100},{"s":"Co","t":98,"v":100},{"s":"Co","t":100,"v":100},{"s":"Co","t":101,"v":null},
{"s":"Cr","t":0,"v":150},{"s":"Cr","t":2,"v":250},{"s":"Cr","t":4,"v":120},{"s":"Cr","t":6,"v":300},{"s":"Cr","t":8,"v":150},{"s":"Cr","t":10,"v":200},{"s":"Cr","t":12,"v":100},{"s":"Cr","t":14,"v":250},{"s":"Cr","t":16,"v":150},{"s":"Cr","t":18,"v":300},{"s":"Cr","t":20,"v":120},{"s":"Cr","t":22,"v":200},{"s":"Cr","t":24,"v":250},{"s":"Cr","t":26,"v":130},{"s":"Cr","t":28,"v":300},{"s":"Cr","t":30,"v":150},{"s":"Cr","t":32,"v":200},{"s":"Cr","t":34,"v":120},{"s":"Cr","t":35,"v":null},{"s":"Cr","t":38,"v":830},{"s":"Cr","t":39,"v":1200},{"s":"Cr","t":40,"v":1000},{"s":"Cr","t":41,"v":2100},{"s":"Cr","t":42,"v":900},{"s":"Cr","t":43,"v":1100},{"s":"Cr","t":44,"v":1750},{"s":"Cr","t":45,"v":1000},{"s":"Cr","t":46,"v":900},{"s":"Cr","t":47,"v":1200},{"s":"Cr","t":48,"v":1100},{"s":"Cr","t":49,"v":800},{"s":"Cr","t":50,"v":830},{"s":"Cr","t":51,"v":1000},{"s":"Cr","t":52,"v":700},{"s":"Cr","t":53,"v":900},{"s":"Cr","t":54,"v":1200},{"s":"Cr","t":55,"v":800},{"s":"Cr","t":56,"v":580},{"s":"Cr","t":57,"v":700},{"s":"Cr","t":58,"v":830},{"s":"Cr","t":59,"v":900},{"s":"Cr","t":60,"v":580},{"s":"Cr","t":61,"v":800},{"s":"Cr","t":62,"v":1000},{"s":"Cr","t":63,"v":700},{"s":"Cr","t":64,"v":690},{"s":"Cr","t":65,"v":900},{"s":"Cr","t":66,"v":830},{"s":"Cr","t":67,"v":600},{"s":"Cr","t":68,"v":580},{"s":"Cr","t":69,"v":700},{"s":"Cr","t":70,"v":690},{"s":"Cr","t":71,"v":800},{"s":"Cr","t":72,"v":1000},{"s":"Cr","t":73,"v":700},{"s":"Cr","t":74,"v":580},{"s":"Cr","t":75,"v":800},{"s":"Cr","t":76,"v":830},{"s":"Cr","t":77,"v":1000},{"s":"Cr","t":78,"v":1200},{"s":"Cr","t":79,"v":1500},{"s":"Cr","t":80,"v":690},{"s":"Cr","t":81,"v":800},{"s":"Cr","t":82,"v":480},{"s":"Cr","t":83,"v":500},{"s":"Cr","t":84,"v":400},{"s":"Cr","t":85,"v":450},{"s":"Cr","t":86,"v":275},{"s":"Cr","t":87,"v":350},{"s":"Cr","t":88,"v":330},{"s":"Cr","t":89,"v":250},{"s":"Cr","t":90,"v":230},{"s":"Cr","t":91,"v":300},{"s":"Cr","t":92,"v":190},{"s":"Cr","t":93,"v":200},{"s":"Cr","t":94,"v":155},{"s":"Cr","t":95,"v":null},
{"s":"Pb","t":12,"v":null},{"s":"Pb","t":12.3,"v":100},{"s":"Pb","t":12.9,"v":100},{"s":"Pb","t":13.2,"v":null},{"s":"Pb","t":36.5,"v":null},{"s":"Pb","t":37,"v":190},{"s":"Pb","t":37.5,"v":26000},{"s":"Pb","t":38,"v":11000},{"s":"Pb","t":39,"v":12000},{"s":"Pb","t":40,"v":9300},{"s":"Pb","t":41,"v":10000},{"s":"Pb","t":42,"v":8000},{"s":"Pb","t":43,"v":7800},{"s":"Pb","t":44,"v":9300},{"s":"Pb","t":45,"v":11000},{"s":"Pb","t":46,"v":6400},{"s":"Pb","t":47,"v":5400},{"s":"Pb","t":48,"v":4500},{"s":"Pb","t":49,"v":5000},{"s":"Pb","t":50,"v":3700},{"s":"Pb","t":51,"v":3500},{"s":"Pb","t":52,"v":2600},{"s":"Pb","t":53,"v":3000},{"s":"Pb","t":54,"v":1750},{"s":"Pb","t":55,"v":2000},{"s":"Pb","t":56,"v":1450},{"s":"Pb","t":57,"v":1500},{"s":"Pb","t":58,"v":1000},{"s":"Pb","t":59,"v":480},{"s":"Pb","t":60,"v":1200},{"s":"Pb","t":61,"v":1750},{"s":"Pb","t":62,"v":580},{"s":"Pb","t":63,"v":5000},{"s":"Pb","t":64,"v":1000},{"s":"Pb","t":65,"v":1200},{"s":"Pb","t":66,"v":1200},{"s":"Pb","t":67,"v":1000},{"s":"Pb","t":68,"v":830},{"s":"Pb","t":69,"v":1100},{"s":"Pb","t":70,"v":2100},{"s":"Pb","t":71,"v":7000},{"s":"Pb","t":71.5,"v":2000},{"s":"Pb","t":72,"v":2100},{"s":"Pb","t":73,"v":2000},{"s":"Pb","t":74,"v":2600},{"s":"Pb","t":75,"v":3000},{"s":"Pb","t":76,"v":4500},{"s":"Pb","t":77,"v":5400},{"s":"Pb","t":78,"v":6400},{"s":"Pb","t":79,"v":5400},{"s":"Pb","t":80,"v":3100},{"s":"Pb","t":81,"v":3200},{"s":"Pb","t":82,"v":3700},{"s":"Pb","t":83,"v":2600},{"s":"Pb","t":84,"v":1750},{"s":"Pb","t":85,"v":1500},{"s":"Pb","t":86,"v":1000},{"s":"Pb","t":87,"v":830},{"s":"Pb","t":88,"v":580},{"s":"Pb","t":89,"v":330},{"s":"Pb","t":90,"v":155},{"s":"Pb","t":91,"v":100},{"s":"Pb","t":92,"v":100},{"s":"Pb","t":93,"v":150},{"s":"Pb","t":94,"v":200},{"s":"Pb","t":94.5,"v":null},{"s":"Pb","t":100.5,"v":null},{"s":"Pb","t":101,"v":100},{"s":"Pb","t":102,"v":100},{"s":"Pb","t":102.5,"v":null},
{"s":"Ni","t":0,"v":100},{"s":"Ni","t":2,"v":100},{"s":"Ni","t":4,"v":130},{"s":"Ni","t":5,"v":100},{"s":"Ni","t":7,"v":100},{"s":"Ni","t":10,"v":100},{"s":"Ni","t":12,"v":120},{"s":"Ni","t":14,"v":100},{"s":"Ni","t":16,"v":100},{"s":"Ni","t":18,"v":100},{"s":"Ni","t":20,"v":120},{"s":"Ni","t":22,"v":100},{"s":"Ni","t":24,"v":100},{"s":"Ni","t":26,"v":100},{"s":"Ni","t":28,"v":130},{"s":"Ni","t":30,"v":100},{"s":"Ni","t":32,"v":100},{"s":"Ni","t":34,"v":100},{"s":"Ni","t":36,"v":100},{"s":"Ni","t":38,"v":300},{"s":"Ni","t":39,"v":580},{"s":"Ni","t":40,"v":250},{"s":"Ni","t":41,"v":400},{"s":"Ni","t":42,"v":150},{"s":"Ni","t":43,"v":800},{"s":"Ni","t":44,"v":250},{"s":"Ni","t":45,"v":1000},{"s":"Ni","t":46,"v":300},{"s":"Ni","t":47,"v":500},{"s":"Ni","t":48,"v":130},{"s":"Ni","t":49,"v":700},{"s":"Ni","t":50,"v":250},{"s":"Ni","t":51,"v":900},{"s":"Ni","t":52,"v":200},{"s":"Ni","t":53,"v":600},{"s":"Ni","t":54,"v":300},{"s":"Ni","t":55,"v":1000},{"s":"Ni","t":56,"v":150},{"s":"Ni","t":57,"v":500},{"s":"Ni","t":58,"v":100},{"s":"Ni","t":59,"v":700},{"s":"Ni","t":60,"v":200},{"s":"Ni","t":61,"v":400},{"s":"Ni","t":62,"v":900},{"s":"Ni","t":63,"v":130},{"s":"Ni","t":64,"v":600},{"s":"Ni","t":65,"v":300},{"s":"Ni","t":66,"v":800},{"s":"Ni","t":67,"v":150},{"s":"Ni","t":68,"v":500},{"s":"Ni","t":69,"v":250},{"s":"Ni","t":70,"v":700},{"s":"Ni","t":71,"v":130},{"s":"Ni","t":72,"v":600},{"s":"Ni","t":73,"v":350},{"s":"Ni","t":74,"v":900},{"s":"Ni","t":75,"v":200},{"s":"Ni","t":76,"v":500},{"s":"Ni","t":77,"v":800},{"s":"Ni","t":78,"v":300},{"s":"Ni","t":79,"v":100},{"s":"Ni","t":80,"v":600},{"s":"Ni","t":81,"v":250},{"s":"Ni","t":82,"v":100},{"s":"Ni","t":83,"v":200},{"s":"Ni","t":84,"v":100},{"s":"Ni","t":85,"v":150},{"s":"Ni","t":86,"v":100},{"s":"Ni","t":88,"v":100},{"s":"Ni","t":90,"v":100},{"s":"Ni","t":92,"v":100},{"s":"Ni","t":94,"v":100},{"s":"Ni","t":96,"v":100},{"s":"Ni","t":98,"v":100},{"s":"Ni","t":100,"v":100},{"s":"Ni","t":102,"v":100},{"s":"Ni","t":104,"v":100},{"s":"Ni","t":106,"v":100},
{"s":"Fe","t":0,"v":300},{"s":"Fe","t":1,"v":150},{"s":"Fe","t":2,"v":350},{"s":"Fe","t":3,"v":100},{"s":"Fe","t":4,"v":200},{"s":"Fe","t":5,"v":550},{"s":"Fe","t":6,"v":150},{"s":"Fe","t":7,"v":400},{"s":"Fe","t":8,"v":100},{"s":"Fe","t":9,"v":300},{"s":"Fe","t":10,"v":150},{"s":"Fe","t":11,"v":500},{"s":"Fe","t":12,"v":120},{"s":"Fe","t":13,"v":350},{"s":"Fe","t":14,"v":200},{"s":"Fe","t":15,"v":450},{"s":"Fe","t":16,"v":100},{"s":"Fe","t":17,"v":300},{"s":"Fe","t":18,"v":150},{"s":"Fe","t":19,"v":250},{"s":"Fe","t":20,"v":400},{"s":"Fe","t":21,"v":120},{"s":"Fe","t":22,"v":300},{"s":"Fe","t":23,"v":180},{"s":"Fe","t":24,"v":500},{"s":"Fe","t":25,"v":150},{"s":"Fe","t":26,"v":350},{"s":"Fe","t":27,"v":100},{"s":"Fe","t":28,"v":300},{"s":"Fe","t":29,"v":200},{"s":"Fe","t":30,"v":450},{"s":"Fe","t":31,"v":150},{"s":"Fe","t":32,"v":300},{"s":"Fe","t":33,"v":120},{"s":"Fe","t":34,"v":250},{"s":"Fe","t":35,"v":150},{"s":"Fe","t":36,"v":null},{"s":"Fe","t":37,"v":560000},{"s":"Fe","t":38,"v":1400000},{"s":"Fe","t":39,"v":1900000},{"s":"Fe","t":40,"v":2000000},{"s":"Fe","t":41,"v":1800000},{"s":"Fe","t":42,"v":2000000},{"s":"Fe","t":43,"v":2200000},{"s":"Fe","t":44,"v":1900000},{"s":"Fe","t":45,"v":2100000},{"s":"Fe","t":46,"v":2600000},{"s":"Fe","t":47,"v":2000000},{"s":"Fe","t":48,"v":2200000},{"s":"Fe","t":49,"v":1800000},{"s":"Fe","t":50,"v":1900000},{"s":"Fe","t":52,"v":1700000},{"s":"Fe","t":54,"v":1800000},{"s":"Fe","t":55,"v":1550000},{"s":"Fe","t":56,"v":1700000},{"s":"Fe","t":58,"v":1500000},{"s":"Fe","t":60,"v":1400000},{"s":"Fe","t":62,"v":1600000},{"s":"Fe","t":64,"v":1500000},{"s":"Fe","t":65,"v":1700000},{"s":"Fe","t":66,"v":1400000},{"s":"Fe","t":68,"v":1500000},{"s":"Fe","t":70,"v":1300000},{"s":"Fe","t":71,"v":1100000},{"s":"Fe","t":72,"v":1200000},{"s":"Fe","t":74,"v":1400000},{"s":"Fe","t":75,"v":1100000},{"s":"Fe","t":76,"v":1300000},{"s":"Fe","t":78,"v":1200000},{"s":"Fe","t":80,"v":1400000},{"s":"Fe","t":81,"v":1200000},{"s":"Fe","t":82,"v":1000000},{"s":"Fe","t":83,"v":560000},{"s":"Fe","t":84,"v":320000},{"s":"Fe","t":85,"v":180000},{"s":"Fe","t":86,"v":120000},{"s":"Fe","t":87,"v":180000},{"s":"Fe","t":88,"v":60000},{"s":"Fe","t":89,"v":35000},{"s":"Fe","t":90,"v":16000},{"s":"Fe","t":91,"v":13500},{"s":"Fe","t":92,"v":11000},{"s":"Fe","t":93,"v":150000},{"s":"Fe","t":93.5,"v":15000},{"s":"Fe","t":94,"v":6400},{"s":"Fe","t":95,"v":3700},{"s":"Fe","t":96,"v":11000},{"s":"Fe","t":96.5,"v":24000},{"s":"Fe","t":97,"v":3700},{"s":"Fe","t":98,"v":830},{"s":"Fe","t":99,"v":690},{"s":"Fe","t":100,"v":400},{"s":"Fe","t":101,"v":230},{"s":"Fe","t":102,"v":330},{"s":"Fe","t":103,"v":190},{"s":"Fe","t":104,"v":275},{"s":"Fe","t":105,"v":400},{"s":"Fe","t":106,"v":230},{"s":"Fe","t":107,"v":300}
],
"LV":[{"s":"Fe","t":67.3,"v":2900000},{"s":"Co","t":80.2,"v":260000},{"s":"Mn","t":48.5,"v":115000},{"s":"Pb","t":79,"v":11000},{"s":"Cr","t":77.5,"v":1600},{"s":"Ni","t":56.5,"v":35}],
"G":[
{"s":"Fe","t":0,"v":150},{"s":"Fe","t":1,"v":300},{"s":"Fe","t":2,"v":100},{"s":"Fe","t":3,"v":250},{"s":"Fe","t":4,"v":130},{"s":"Fe","t":5,"v":350},{"s":"Fe","t":6,"v":100},{"s":"Fe","t":7,"v":200},{"s":"Fe","t":8,"v":300},{"s":"Fe","t":9,"v":120},{"s":"Fe","t":10,"v":250},{"s":"Fe","t":11,"v":150},{"s":"Fe","t":12,"v":350},{"s":"Fe","t":13,"v":100},{"s":"Fe","t":14,"v":280},{"s":"Fe","t":15,"v":150},{"s":"Fe","t":16,"v":400},{"s":"Fe","t":17,"v":130},{"s":"Fe","t":18,"v":250},{"s":"Fe","t":19,"v":100},{"s":"Fe","t":20,"v":300},{"s":"Fe","t":21,"v":180},{"s":"Fe","t":22,"v":350},{"s":"Fe","t":23,"v":120},{"s":"Fe","t":24,"v":250},{"s":"Fe","t":25,"v":150},{"s":"Fe","t":26,"v":300},{"s":"Fe","t":27,"v":100},{"s":"Fe","t":28,"v":350},{"s":"Fe","t":29,"v":150},{"s":"Fe","t":30,"v":400},{"s":"Fe","t":31,"v":200},{"s":"Fe","t":32,"v":300},{"s":"Fe","t":32.8,"v":100},{"s":"Fe","t":33.2,"v":690000},{"s":"Fe","t":33.5,"v":860000},{"s":"Fe","t":34,"v":1100000},{"s":"Fe","t":35,"v":1300000},{"s":"Fe","t":36,"v":1400000},{"s":"Fe","t":37,"v":1500000},{"s":"Fe","t":38,"v":1600000},{"s":"Fe","t":39,"v":1500000},{"s":"Fe","t":40,"v":1700000},{"s":"Fe","t":41,"v":1600000},{"s":"Fe","t":42,"v":1900000},{"s":"Fe","t":43,"v":2150000},{"s":"Fe","t":44,"v":1700000},{"s":"Fe","t":45,"v":1700000},{"s":"Fe","t":46,"v":1900000},{"s":"Fe","t":47,"v":1600000},{"s":"Fe","t":48,"v":1900000},{"s":"Fe","t":49,"v":1700000},{"s":"Fe","t":50,"v":1600000},{"s":"Fe","t":51,"v":1400000},{"s":"Fe","t":52,"v":1400000},{"s":"Fe","t":53,"v":1600000},{"s":"Fe","t":54,"v":1500000},{"s":"Fe","t":55,"v":2000000},{"s":"Fe","t":56,"v":1500000},{"s":"Fe","t":57,"v":1400000},{"s":"Fe","t":58,"v":1500000},{"s":"Fe","t":59,"v":1300000},{"s":"Fe","t":60,"v":1400000},{"s":"Fe","t":61,"v":1500000},{"s":"Fe","t":62,"v":1600000},{"s":"Fe","t":63,"v":1400000},{"s":"Fe","t":64,"v":1300000},{"s":"Fe","t":65,"v":1300000},{"s":"Fe","t":66,"v":1200000},{"s":"Fe","t":67,"v":1050000},{"s":"Fe","t":68,"v":1200000},{"s":"Fe","t":69,"v":1300000},{"s":"Fe","t":70,"v":1300000},{"s":"Fe","t":71,"v":1400000},{"s":"Fe","t":72,"v":1300000},{"s":"Fe","t":73,"v":1400000},{"s":"Fe","t":74,"v":1300000},{"s":"Fe","t":75,"v":1300000},{"s":"Fe","t":76,"v":1200000},{"s":"Fe","t":77,"v":1100000},{"s":"Fe","t":78,"v":1200000},{"s":"Fe","t":79,"v":1100000},{"s":"Fe","t":80,"v":1050000},{"s":"Fe","t":81,"v":1100000},{"s":"Fe","t":82,"v":950000},{"s":"Fe","t":83,"v":900000},{"s":"Fe","t":84,"v":770000},{"s":"Fe","t":85,"v":700000},{"s":"Fe","t":86,"v":570000},{"s":"Fe","t":87,"v":450000},{"s":"Fe","t":88,"v":340000},{"s":"Fe","t":89,"v":260000},{"s":"Fe","t":90,"v":200000},{"s":"Fe","t":91,"v":150000},{"s":"Fe","t":92,"v":91000},{"s":"Fe","t":93,"v":60000},{"s":"Fe","t":94,"v":40000},{"s":"Fe","t":95,"v":27000},{"s":"Fe","t":96,"v":17500},{"s":"Fe","t":97,"v":13000},{"s":"Fe","t":98,"v":9500},{"s":"Fe","t":99,"v":6300},{"s":"Fe","t":100,"v":4200},{"s":"Fe","t":101,"v":3100},{"s":"Fe","t":102,"v":2800},{"s":"Fe","t":103,"v":3000},{"s":"Fe","t":103.5,"v":3200},{"s":"Fe","t":104,"v":100000},{"s":"Fe","t":104.5,"v":3000},{"s":"Fe","t":105,"v":300},{"s":"Fe","t":106,"v":500},{"s":"Fe","t":107,"v":130},{"s":"Fe","t":108,"v":100},{"s":"Fe","t":109,"v":150},{"s":"Fe","t":110,"v":100},
{"s":"Ti","t":37,"v":null},{"s":"Ti","t":38,"v":300},{"s":"Ti","t":39,"v":440},{"s":"Ti","t":40,"v":250},{"s":"Ti","t":41,"v":360},{"s":"Ti","t":42,"v":540},{"s":"Ti","t":43,"v":290},{"s":"Ti","t":44,"v":440},{"s":"Ti","t":45,"v":360},{"s":"Ti","t":46,"v":540},{"s":"Ti","t":47,"v":440},{"s":"Ti","t":48,"v":290},{"s":"Ti","t":49,"v":360},{"s":"Ti","t":50,"v":440},{"s":"Ti","t":51,"v":240},{"s":"Ti","t":52,"v":360},{"s":"Ti","t":53,"v":290},{"s":"Ti","t":54,"v":150},{"s":"Ti","t":55,"v":130},{"s":"Ti","t":56,"v":360},{"s":"Ti","t":57,"v":440},{"s":"Ti","t":58,"v":290},{"s":"Ti","t":59,"v":360},{"s":"Ti","t":60,"v":540},{"s":"Ti","t":61,"v":290},{"s":"Ti","t":62,"v":360},{"s":"Ti","t":63,"v":440},{"s":"Ti","t":64,"v":240},{"s":"Ti","t":65,"v":540},{"s":"Ti","t":66,"v":290},{"s":"Ti","t":67,"v":360},{"s":"Ti","t":68,"v":440},{"s":"Ti","t":69,"v":290},{"s":"Ti","t":70,"v":540},{"s":"Ti","t":71,"v":360},{"s":"Ti","t":72,"v":240},{"s":"Ti","t":73,"v":440},{"s":"Ti","t":74,"v":360},{"s":"Ti","t":75,"v":290},{"s":"Ti","t":76,"v":540},{"s":"Ti","t":77,"v":360},{"s":"Ti","t":78,"v":240},{"s":"Ti","t":79,"v":440},{"s":"Ti","t":80,"v":360},{"s":"Ti","t":81,"v":540},{"s":"Ti","t":82,"v":290},{"s":"Ti","t":83,"v":440},{"s":"Ti","t":84,"v":360},{"s":"Ti","t":85,"v":240},{"s":"Ti","t":86,"v":360},{"s":"Ti","t":87,"v":290},{"s":"Ti","t":88,"v":195},{"s":"Ti","t":89,"v":240},{"s":"Ti","t":90,"v":130},{"s":"Ti","t":91,"v":195},{"s":"Ti","t":92,"v":130},{"s":"Ti","t":93,"v":null},
{"s":"Ni","t":36,"v":null},{"s":"Ni","t":37,"v":195},{"s":"Ni","t":38,"v":440},{"s":"Ni","t":39,"v":660},{"s":"Ni","t":40,"v":810},{"s":"Ni","t":41,"v":440},{"s":"Ni","t":42,"v":1000},{"s":"Ni","t":43,"v":660},{"s":"Ni","t":44,"v":1230},{"s":"Ni","t":45,"v":810},{"s":"Ni","t":46,"v":1000},{"s":"Ni","t":47,"v":1230},{"s":"Ni","t":48,"v":660},{"s":"Ni","t":49,"v":1000},{"s":"Ni","t":50,"v":1230},{"s":"Ni","t":51,"v":810},{"s":"Ni","t":52,"v":1500},{"s":"Ni","t":53,"v":1000},{"s":"Ni","t":54,"v":1000},{"s":"Ni","t":55,"v":1650},{"s":"Ni","t":56,"v":2300},{"s":"Ni","t":57,"v":1650},{"s":"Ni","t":58,"v":1500},{"s":"Ni","t":59,"v":1850},{"s":"Ni","t":60,"v":1650},{"s":"Ni","t":61,"v":1230},{"s":"Ni","t":62,"v":1230},{"s":"Ni","t":63,"v":1500},{"s":"Ni","t":64,"v":1500},{"s":"Ni","t":65,"v":1230},{"s":"Ni","t":66,"v":1000},{"s":"Ni","t":67,"v":1230},{"s":"Ni","t":68,"v":810},{"s":"Ni","t":69,"v":1000},{"s":"Ni","t":70,"v":1230},{"s":"Ni","t":71,"v":810},{"s":"Ni","t":72,"v":810},{"s":"Ni","t":73,"v":1230},{"s":"Ni","t":74,"v":1000},{"s":"Ni","t":75,"v":660},{"s":"Ni","t":76,"v":440},{"s":"Ni","t":77,"v":1000},{"s":"Ni","t":78,"v":1500},{"s":"Ni","t":79,"v":1230},{"s":"Ni","t":80,"v":1230},{"s":"Ni","t":81,"v":810},{"s":"Ni","t":82,"v":1500},{"s":"Ni","t":83,"v":1230},{"s":"Ni","t":84,"v":1000},{"s":"Ni","t":85,"v":1850},{"s":"Ni","t":86,"v":810},{"s":"Ni","t":87,"v":440},{"s":"Ni","t":88,"v":195},{"s":"Ni","t":89,"v":360},{"s":"Ni","t":90,"v":130},{"s":"Ni","t":91,"v":100},{"s":"Ni","t":91.5,"v":null},
{"s":"Co","t":33.5,"v":3000},{"s":"Co","t":34,"v":6300},{"s":"Co","t":35,"v":10000},{"s":"Co","t":36,"v":13000},{"s":"Co","t":37,"v":16000},{"s":"Co","t":38,"v":17500},{"s":"Co","t":39,"v":16000},{"s":"Co","t":40,"v":19000},{"s":"Co","t":41,"v":17500},{"s":"Co","t":42,"v":21500},{"s":"Co","t":43,"v":17500},{"s":"Co","t":44,"v":24000},{"s":"Co","t":45,"v":33000},{"s":"Co","t":46,"v":21500},{"s":"Co","t":47,"v":24000},{"s":"Co","t":48,"v":21500},{"s":"Co","t":49,"v":24000},{"s":"Co","t":50,"v":27000},{"s":"Co","t":51,"v":21500},{"s":"Co","t":52,"v":19000},{"s":"Co","t":53,"v":21500},{"s":"Co","t":54,"v":17500},{"s":"Co","t":55,"v":16000},{"s":"Co","t":56,"v":14000},{"s":"Co","t":57,"v":16000},{"s":"Co","t":58,"v":14000},{"s":"Co","t":59,"v":17500},{"s":"Co","t":60,"v":14000},{"s":"Co","t":61,"v":16000},{"s":"Co","t":62,"v":14000},{"s":"Co","t":63,"v":17500},{"s":"Co","t":64,"v":16000},{"s":"Co","t":65,"v":19000},{"s":"Co","t":66,"v":21500},{"s":"Co","t":67,"v":17500},{"s":"Co","t":68,"v":29000},{"s":"Co","t":69,"v":24000},{"s":"Co","t":70,"v":20000},{"s":"Co","t":71,"v":27000},{"s":"Co","t":72,"v":33000},{"s":"Co","t":73,"v":24000},{"s":"Co","t":74,"v":27000},{"s":"Co","t":75,"v":21500},{"s":"Co","t":76,"v":36000},{"s":"Co","t":77,"v":27000},{"s":"Co","t":78,"v":21500},{"s":"Co","t":79,"v":33000},{"s":"Co","t":80,"v":44000},{"s":"Co","t":81,"v":40000},{"s":"Co","t":82,"v":60000},{"s":"Co","t":83,"v":44000},{"s":"Co","t":84,"v":40000},{"s":"Co","t":85,"v":33000},{"s":"Co","t":86,"v":29000},{"s":"Co","t":87,"v":14000},{"s":"Co","t":88,"v":7000},{"s":"Co","t":89,"v":3400},{"s":"Co","t":90,"v":2300},{"s":"Co","t":91,"v":1850},{"s":"Co","t":92,"v":1500},{"s":"Co","t":93,"v":440},{"s":"Co","t":94,"v":360},{"s":"Co","t":95,"v":290},{"s":"Co","t":96,"v":195},{"s":"Co","t":97,"v":250},{"s":"Co","t":98,"v":195},{"s":"Co","t":99,"v":160},{"s":"Co","t":100,"v":130},{"s":"Co","t":101,"v":null},
{"s":"Mn","t":0,"v":200},{"s":"Mn","t":1,"v":120},{"s":"Mn","t":2,"v":350},{"s":"Mn","t":3,"v":150},{"s":"Mn","t":4,"v":540},{"s":"Mn","t":5,"v":250},{"s":"Mn","t":6,"v":130},{"s":"Mn","t":7,"v":300},{"s":"Mn","t":8,"v":200},{"s":"Mn","t":9,"v":150},{"s":"Mn","t":10,"v":350},{"s":"Mn","t":11,"v":120},{"s":"Mn","t":12,"v":250},{"s":"Mn","t":13,"v":180},{"s":"Mn","t":14,"v":300},{"s":"Mn","t":15,"v":130},{"s":"Mn","t":16,"v":250},{"s":"Mn","t":17,"v":200},{"s":"Mn","t":18,"v":400},{"s":"Mn","t":19,"v":150},{"s":"Mn","t":20,"v":300},{"s":"Mn","t":21,"v":130},{"s":"Mn","t":22,"v":250},{"s":"Mn","t":23,"v":200},{"s":"Mn","t":24,"v":350},{"s":"Mn","t":25,"v":150},{"s":"Mn","t":26,"v":300},{"s":"Mn","t":27,"v":400},{"s":"Mn","t":28,"v":200},{"s":"Mn","t":29,"v":350},{"s":"Mn","t":30,"v":150},{"s":"Mn","t":31,"v":250},{"s":"Mn","t":32,"v":200},{"s":"Mn","t":33,"v":null},{"s":"Mn","t":33.5,"v":2000},{"s":"Mn","t":34,"v":7700},{"s":"Mn","t":35,"v":12000},{"s":"Mn","t":36,"v":16000},{"s":"Mn","t":37,"v":17500},{"s":"Mn","t":38,"v":14000},{"s":"Mn","t":39,"v":19000},{"s":"Mn","t":40,"v":16000},{"s":"Mn","t":41,"v":14000},{"s":"Mn","t":42,"v":17500},{"s":"Mn","t":43,"v":13000},{"s":"Mn","t":44,"v":15000},{"s":"Mn","t":45,"v":16000},{"s":"Mn","t":46,"v":12000},{"s":"Mn","t":47,"v":15000},{"s":"Mn","t":48,"v":14000},{"s":"Mn","t":49,"v":11700},{"s":"Mn","t":50,"v":16000},{"s":"Mn","t":51,"v":13000},{"s":"Mn","t":52,"v":11700},{"s":"Mn","t":53,"v":12500},{"s":"Mn","t":54,"v":10500},{"s":"Mn","t":55,"v":13000},{"s":"Mn","t":56,"v":11000},{"s":"Mn","t":57,"v":12000},{"s":"Mn","t":58,"v":9500},{"s":"Mn","t":59,"v":11000},{"s":"Mn","t":60,"v":10500},{"s":"Mn","t":61,"v":8600},{"s":"Mn","t":62,"v":9500},{"s":"Mn","t":63,"v":7700},{"s":"Mn","t":64,"v":5000},{"s":"Mn","t":65,"v":6900},{"s":"Mn","t":66,"v":8000},{"s":"Mn","t":67,"v":7700},{"s":"Mn","t":68,"v":9000},{"s":"Mn","t":69,"v":8600},{"s":"Mn","t":70,"v":10000},{"s":"Mn","t":71,"v":9000},{"s":"Mn","t":72,"v":11700},{"s":"Mn","t":73,"v":9500},{"s":"Mn","t":74,"v":10500},{"s":"Mn","t":75,"v":8600},{"s":"Mn","t":76,"v":9500},{"s":"Mn","t":77,"v":7700},{"s":"Mn","t":78,"v":10000},{"s":"Mn","t":79,"v":8600},{"s":"Mn","t":80,"v":9500},{"s":"Mn","t":81,"v":8000},{"s":"Mn","t":82,"v":8600},{"s":"Mn","t":83,"v":10000},{"s":"Mn","t":84,"v":6900},{"s":"Mn","t":85,"v":7700},{"s":"Mn","t":86,"v":5700},{"s":"Mn","t":87,"v":4200},{"s":"Mn","t":88,"v":3400},{"s":"Mn","t":89,"v":2300},{"s":"Mn","t":90,"v":1200},{"s":"Mn","t":91,"v":650},{"s":"Mn","t":92,"v":1000},{"s":"Mn","t":93,"v":440},{"s":"Mn","t":94,"v":290},{"s":"Mn","t":95,"v":360},{"s":"Mn","t":96,"v":250},{"s":"Mn","t":97,"v":200},{"s":"Mn","t":98,"v":240},{"s":"Mn","t":99,"v":180},{"s":"Mn","t":100,"v":290},{"s":"Mn","t":101,"v":200},{"s":"Mn","t":102,"v":240},{"s":"Mn","t":103,"v":160},{"s":"Mn","t":104,"v":290},{"s":"Mn","t":105,"v":200},{"s":"Mn","t":106,"v":240},{"s":"Mn","t":107,"v":180},{"s":"Mn","t":108,"v":250},{"s":"Mn","t":109,"v":200},{"s":"Mn","t":110,"v":240},
{"s":"As","t":0,"v":1800},{"s":"As","t":1,"v":1500},{"s":"As","t":2,"v":2000},{"s":"As","t":3,"v":1700},{"s":"As","t":4,"v":1300},{"s":"As","t":5,"v":1900},{"s":"As","t":6,"v":1600},{"s":"As","t":7,"v":2000},{"s":"As","t":8,"v":1500},{"s":"As","t":9,"v":1800},{"s":"As","t":10,"v":1400},{"s":"As","t":11,"v":1700},{"s":"As","t":12,"v":2200},{"s":"As","t":13,"v":2400},{"s":"As","t":14,"v":1800},{"s":"As","t":15,"v":1600},{"s":"As","t":16,"v":2000},{"s":"As","t":17,"v":1500},{"s":"As","t":18,"v":1700},{"s":"As","t":19,"v":2100},{"s":"As","t":20,"v":1800},{"s":"As","t":21,"v":1500},{"s":"As","t":22,"v":2000},{"s":"As","t":23,"v":1600},{"s":"As","t":24,"v":1200},{"s":"As","t":25,"v":1900},{"s":"As","t":26,"v":1600},{"s":"As","t":27,"v":2100},{"s":"As","t":28,"v":1800},{"s":"As","t":29,"v":1500},{"s":"As","t":30,"v":1900},{"s":"As","t":31,"v":1700},{"s":"As","t":32,"v":1800},{"s":"As","t":33,"v":2000},{"s":"As","t":34,"v":49000},{"s":"As","t":35,"v":110000},{"s":"As","t":36,"v":125000},{"s":"As","t":37,"v":100000},{"s":"As","t":38,"v":91000},{"s":"As","t":39,"v":95000},{"s":"As","t":40,"v":80000},{"s":"As","t":41,"v":74000},{"s":"As","t":42,"v":70000},{"s":"As","t":43,"v":65000},{"s":"As","t":44,"v":60000},{"s":"As","t":45,"v":62000},{"s":"As","t":46,"v":54000},{"s":"As","t":47,"v":50000},{"s":"As","t":48,"v":45000},{"s":"As","t":49,"v":42000},{"s":"As","t":50,"v":36000},{"s":"As","t":51,"v":33000},{"s":"As","t":52,"v":27000},{"s":"As","t":53,"v":24000},{"s":"As","t":54,"v":20000},{"s":"As","t":55,"v":18000},{"s":"As","t":56,"v":17500},{"s":"As","t":57,"v":15000},{"s":"As","t":58,"v":14000},{"s":"As","t":59,"v":13000},{"s":"As","t":60,"v":13000},{"s":"As","t":61,"v":12000},{"s":"As","t":62,"v":10500},{"s":"As","t":63,"v":10000},{"s":"As","t":64,"v":9500},{"s":"As","t":65,"v":8600},{"s":"As","t":66,"v":8600},{"s":"As","t":67,"v":7700},{"s":"As","t":68,"v":7700},{"s":"As","t":69,"v":7000},{"s":"As","t":70,"v":6900},{"s":"As","t":71,"v":6500},{"s":"As","t":72,"v":6900},{"s":"As","t":73,"v":6300},{"s":"As","t":74,"v":6000},{"s":"As","t":75,"v":6300},{"s":"As","t":76,"v":6000},{"s":"As","t":77,"v":5400},{"s":"As","t":78,"v":6000},{"s":"As","t":79,"v":5700},{"s":"As","t":80,"v":5100},{"s":"As","t":81,"v":5400},{"s":"As","t":82,"v":6000},{"s":"As","t":83,"v":5000},{"s":"As","t":84,"v":4800},{"s":"As","t":85,"v":5700},{"s":"As","t":85.5,"v":13000},{"s":"As","t":86,"v":4800},{"s":"As","t":87,"v":4500},{"s":"As","t":88,"v":3800},{"s":"As","t":89,"v":3400},{"s":"As","t":90,"v":3100},{"s":"As","t":91,"v":2800},{"s":"As","t":92,"v":2600},{"s":"As","t":93,"v":2500},{"s":"As","t":94,"v":2200},{"s":"As","t":95,"v":2000},{"s":"As","t":96,"v":1700},{"s":"As","t":97,"v":2000},{"s":"As","t":98,"v":1900},{"s":"As","t":99,"v":1600},{"s":"As","t":100,"v":2100},{"s":"As","t":101,"v":1800},{"s":"As","t":102,"v":1500},{"s":"As","t":103,"v":1900},{"s":"As","t":104,"v":2000},{"s":"As","t":105,"v":1600},{"s":"As","t":106,"v":1800},{"s":"As","t":107,"v":1500},{"s":"As","t":108,"v":2000},{"s":"As","t":109,"v":1700},{"s":"As","t":110,"v":1800},
{"s":"V","t":29,"v":null},{"s":"V","t":29.5,"v":100},{"s":"V","t":30,"v":195},{"s":"V","t":30.5,"v":100},{"s":"V","t":31,"v":null},{"s":"V","t":37,"v":null},{"s":"V","t":37.5,"v":100},{"s":"V","t":38.5,"v":100},{"s":"V","t":39,"v":null},{"s":"V","t":40,"v":null},{"s":"V","t":40.5,"v":100},{"s":"V","t":41.5,"v":100},{"s":"V","t":42,"v":null},{"s":"V","t":43,"v":null},{"s":"V","t":43.5,"v":100},{"s":"V","t":44.5,"v":100},{"s":"V","t":45,"v":null},{"s":"V","t":47,"v":null},{"s":"V","t":47.5,"v":100},{"s":"V","t":49,"v":100},{"s":"V","t":49.5,"v":null},{"s":"V","t":51,"v":null},{"s":"V","t":51.5,"v":195},{"s":"V","t":52,"v":240},{"s":"V","t":53,"v":100},{"s":"V","t":54,"v":100},{"s":"V","t":55,"v":100},{"s":"V","t":56,"v":195},{"s":"V","t":57,"v":100},{"s":"V","t":58,"v":100},{"s":"V","t":58.5,"v":null},{"s":"V","t":60,"v":null},{"s":"V","t":60.5,"v":100},{"s":"V","t":61.5,"v":100},{"s":"V","t":62,"v":null},{"s":"V","t":63.5,"v":null},{"s":"V","t":64,"v":100},{"s":"V","t":65,"v":240},{"s":"V","t":66,"v":100},{"s":"V","t":66.5,"v":null},{"s":"V","t":67,"v":null},{"s":"V","t":67.5,"v":100},{"s":"V","t":69,"v":100},{"s":"V","t":69.5,"v":null},{"s":"V","t":71,"v":null},{"s":"V","t":71.5,"v":100},{"s":"V","t":72.5,"v":100},{"s":"V","t":73,"v":null},{"s":"V","t":74,"v":null},{"s":"V","t":74.5,"v":100},{"s":"V","t":75,"v":195},{"s":"V","t":75.5,"v":100},{"s":"V","t":76,"v":null},{"s":"V","t":77,"v":null},{"s":"V","t":77.5,"v":100},{"s":"V","t":78,"v":240},{"s":"V","t":78.5,"v":100},{"s":"V","t":79,"v":null},{"s":"V","t":80.5,"v":null},{"s":"V","t":81,"v":100},{"s":"V","t":82,"v":100},{"s":"V","t":82.5,"v":null},{"s":"V","t":84,"v":null},{"s":"V","t":84.5,"v":100},{"s":"V","t":85.5,"v":100},{"s":"V","t":86,"v":null},{"s":"V","t":87.5,"v":null},{"s":"V","t":88,"v":100},{"s":"V","t":89,"v":100},{"s":"V","t":89.5,"v":null},{"s":"V","t":95,"v":null},{"s":"V","t":95.5,"v":100},{"s":"V","t":96.5,"v":100},{"s":"V","t":97,"v":null},{"s":"V","t":100,"v":null},{"s":"V","t":100.5,"v":100},{"s":"V","t":101.5,"v":100},{"s":"V","t":102,"v":null},
{"s":"Mo","t":0,"v":195},{"s":"Mo","t":1,"v":195},{"s":"Mo","t":2,"v":null},{"s":"Mo","t":3,"v":100},{"s":"Mo","t":4,"v":195},{"s":"Mo","t":5,"v":null},{"s":"Mo","t":9,"v":null},{"s":"Mo","t":9.5,"v":100},{"s":"Mo","t":11,"v":100},{"s":"Mo","t":12,"v":null},{"s":"Mo","t":14,"v":null},{"s":"Mo","t":14.5,"v":100},{"s":"Mo","t":16,"v":100},{"s":"Mo","t":17,"v":195},{"s":"Mo","t":18,"v":100},{"s":"Mo","t":19,"v":null},{"s":"Mo","t":25,"v":null},{"s":"Mo","t":25.5,"v":100},{"s":"Mo","t":27,"v":100},{"s":"Mo","t":28,"v":null},{"s":"Mo","t":30,"v":null},{"s":"Mo","t":30.5,"v":100},{"s":"Mo","t":31.5,"v":100},{"s":"Mo","t":32,"v":null},{"s":"Mo","t":33.5,"v":null},{"s":"Mo","t":34,"v":300},{"s":"Mo","t":34.3,"v":100},{"s":"Mo","t":34.6,"v":800},{"s":"Mo","t":34.9,"v":150},{"s":"Mo","t":35.2,"v":1300},{"s":"Mo","t":35.5,"v":200},{"s":"Mo","t":35.8,"v":700},{"s":"Mo","t":36.1,"v":150},{"s":"Mo","t":36.5,"v":195},{"s":"Mo","t":37,"v":100},{"s":"Mo","t":38,"v":195},{"s":"Mo","t":39,"v":100},{"s":"Mo","t":40,"v":195},{"s":"Mo","t":41,"v":100},{"s":"Mo","t":42,"v":120},{"s":"Mo","t":43,"v":100},{"s":"Mo","t":44,"v":100},{"s":"Mo","t":44.5,"v":null},{"s":"Mo","t":48,"v":null},{"s":"Mo","t":48.5,"v":195},{"s":"Mo","t":49.5,"v":240},{"s":"Mo","t":50,"v":195},{"s":"Mo","t":51,"v":240},{"s":"Mo","t":51.5,"v":null},{"s":"Mo","t":53,"v":null},{"s":"Mo","t":53.5,"v":100},{"s":"Mo","t":55,"v":100},{"s":"Mo","t":56,"v":100},{"s":"Mo","t":56.5,"v":null},{"s":"Mo","t":58,"v":null},{"s":"Mo","t":58.5,"v":195},{"s":"Mo","t":59,"v":null},{"s":"Mo","t":62,"v":null},{"s":"Mo","t":62.5,"v":100},{"s":"Mo","t":63,"v":null},{"s":"Mo","t":68,"v":null},{"s":"Mo","t":68.5,"v":195},{"s":"Mo","t":69,"v":null},{"s":"Mo","t":72,"v":null},{"s":"Mo","t":72.5,"v":100},{"s":"Mo","t":73,"v":null},{"s":"Mo","t":79,"v":null},{"s":"Mo","t":79.5,"v":100},{"s":"Mo","t":80,"v":null},{"s":"Mo","t":92,"v":null},{"s":"Mo","t":92.5,"v":100},{"s":"Mo","t":93,"v":null},{"s":"Mo","t":98,"v":null},{"s":"Mo","t":98.5,"v":100},{"s":"Mo","t":99,"v":null},{"s":"Mo","t":105,"v":null},{"s":"Mo","t":105.5,"v":100},{"s":"Mo","t":106,"v":null}
],
"LG":[{"s":"Fe","t":54.7,"v":3600000},{"s":"As","t":37.9,"v":230000},{"s":"Co","t":84.9,"v":110000},{"s":"Mn","t":37.9,"v":44000},{"s":"Mo","t":36.8,"v":2800},{"s":"Ni","t":82,"v":2800},{"s":"Ti","t":80.3,"v":600},{"s":"V","t":66,"v":51}]
},
"concat":[
{"hconcat":[
 {"vconcat":[
  {"width":10,"height":23,"data":{"values":[{"z":1}]},"mark":{"type":"point","opacity":0},"encoding":{}},
  {"width":352,"height":206,"data":{"name":"A"},
   "title":{"text":"A","dx":-71,"dy":-27},
   "encoding":{
    "x":{"field":"t","type":"quantitative","scale":{"domain":[0,125],"nice":false,"zero":false},"axis":{"values":[0,20,40,60,80,100,120],"format":"d","title":"Time (s)","labelPadding":11,"titlePadding":11,"titleX":197}},
    "y":{"field":"v","type":"quantitative","scale":{"type":"log","domain":[10,10000000],"nice":false},"axis":{"values":[10,100,1000,10000,100000,1000000,10000000],"format":"d","title":"Counts per second (cps)","labelPadding":11,"titlePadding":2,"labelFontSize":11.5}},
    "color":{"field":"s","type":"nominal","scale":{"domain":["Fe","As","Co","Ni","Au","Hg"],"range":["#9DC3E6","#245A8C","#ED7D31","#70AD47","#000000","#A5A5A5"]}}
   },
   "layer":[
    {"mark":{"type":"line","strokeWidth":2.2,"clip":true,"invalid":"break-paths-filter-domains"}},
    {"transform":[{"filter":{"field":"s","oneOf":["Hg"]}}],"mark":{"type":"point","filled":false,"size":36,"strokeWidth":1.2,"clip":true},"encoding":{"shape":{"field":"s","type":"nominal","scale":{"domain":["Hg"],"range":["M-1,-1L1,1M-1,1L1,-1"]}}}},
    {"data":{"name":"LA"},"mark":{"type":"text","fontWeight":"bold","fontSize":13},"encoding":{"text":{"field":"s"}}}
   ]}
 ],"spacing":0,"resolve":{"scale":{"x":"independent","y":"independent","color":"independent","shape":"independent"}}},
 {"width":320,"height":226,"data":{"name":"B"},
  "title":{"text":"Б","dx":-70,"dy":-20},
  "encoding":{
   "x":{"field":"t","type":"quantitative","scale":{"domain":[0,108.5],"nice":false,"zero":false},"axis":{"values":[0,20,40,60,80,100],"format":"d","title":"Time (s)","labelPadding":12,"titlePadding":11,"titleX":208}},
   "y":{"field":"v","type":"quantitative","scale":{"type":"log","domain":[10,10000000],"nice":false},"axis":{"values":[10,100,1000,10000,100000,1000000,10000000],"format":"d","title":"Counts per second (cps)","labelPadding":11,"titlePadding":6,"labelFontSize":11.5}},
   "color":{"field":"s","type":"nominal","scale":{"domain":["As","Fe","Pb","Cu","Sb","Ag","Au"],"range":["#F4B183","#FFC000","#1F4E79","#70AD47","#595959","#000000","#9DC3E6"]}}
  },
  "layer":[
   {"mark":{"type":"line","strokeWidth":2.2,"clip":true,"invalid":"break-paths-filter-domains"}},
   {"transform":[{"filter":{"field":"s","oneOf":["Sb","Au"]}}],"mark":{"type":"point","filled":false,"size":40,"strokeWidth":1.2,"clip":true},"encoding":{"shape":{"field":"s","type":"nominal","scale":{"domain":["Sb","Au"],"range":["M-1,0L1,0M0,-1L0,1","M-1,-1L1,1M-1,1L1,-1"]}}}},
   {"data":{"name":"LB"},"mark":{"type":"text","fontWeight":"bold","fontSize":13},"encoding":{"text":{"field":"s"}}}
  ]}
],"spacing":33,"resolve":{"scale":{"x":"independent","y":"independent","color":"independent","shape":"independent"}}},
{"hconcat":[
 {"width":352,"height":248,"data":{"name":"V"},
  "title":{"text":"В","dx":-63,"dy":-12},
  "encoding":{
   "x":{"field":"t","type":"quantitative","scale":{"domain":[-5.8,107.7],"nice":false,"zero":false},"axis":{"values":[0,20,40,60,80,100],"format":"d","title":"Time (s)","domain":false,"labelPadding":12,"titlePadding":4,"titleX":235,"labelFontSize":13,"titleFontSize":15}},
   "y":{"field":"v","type":"quantitative","scale":{"type":"log","domain":[10,10000000],"nice":false},"axis":{"values":[10,100,1000,10000,100000,1000000,10000000],"format":"d","title":"Counts per second (cps)","offset":-18,"labelPadding":13,"titlePadding":8,"labelFontSize":13,"titleFontSize":15}},
   "color":{"field":"s","type":"nominal","scale":{"domain":["Mn","Co","Cr","Pb","Ni","Fe"],"range":["#A5A5A5","#255E91","#F4B183","#000000","#70AD47","#FFC000"]}}
  },
  "layer":[
   {"data":{"values":[{"z":1}]},"mark":{"type":"rule","color":"#d9d9d9","strokeWidth":1},"encoding":{"x":{"datum":0},"x2":{"datum":107.7},"y":{"datum":10},"color":{"value":"#d9d9d9"}}},
   {"mark":{"type":"line","strokeWidth":2.2,"clip":true,"invalid":"break-paths-filter-domains"}},
   {"transform":[{"filter":{"field":"s","oneOf":["Ni"]}}],"mark":{"type":"point","filled":false,"size":40,"strokeWidth":1.2,"clip":true},"encoding":{"shape":{"field":"s","type":"nominal","scale":{"domain":["Ni"],"range":["M-1,-1L1,1M-1,1L1,-1"]}}}},
   {"data":{"name":"LV"},"mark":{"type":"text","fontWeight":"bold","fontSize":14},"encoding":{"text":{"field":"s"}}}
  ]},
 {"vconcat":[
  {"width":10,"height":21,"data":{"values":[{"z":1}]},"mark":{"type":"point","opacity":0},"encoding":{}},
  {"width":323,"height":225,"data":{"name":"G"},
   "title":{"text":"Г","dx":-74,"dy":-11},
   "encoding":{
    "x":{"field":"t","type":"quantitative","scale":{"domain":[0,109],"nice":false,"zero":false},"axis":{"values":[0,20,40,60,80,100],"format":"d","title":"Time (s)","labelPadding":13,"titlePadding":1,"titleX":207,"titleFontSize":14}},
    "y":{"field":"v","type":"quantitative","scale":{"type":"log","domain":[10,10000000],"nice":false},"axis":{"values":[10,100,1000,10000,100000,1000000,10000000],"format":"d","title":"Counts per second (cps)","labelPadding":13,"titlePadding":4,"titleFontSize":14}},
    "color":{"field":"s","type":"nominal","scale":{"domain":["Fe","Ti","Ni","Co","Mn","As","V","Mo"],"range":["#4472C4","#9DC3E6","#9E480E","#70AD47","#FFC000","#000000","#000000","#C00000"]}}
   },
   "layer":[
    {"mark":{"type":"line","strokeWidth":2.2,"clip":true,"invalid":"break-paths-filter-domains"}},
    {"transform":[{"filter":{"field":"s","oneOf":["Mn","Mo"]}}],"mark":{"type":"point","filled":false,"size":40,"strokeWidth":1.2,"clip":true},"encoding":{"shape":{"field":"s","type":"nominal","scale":{"domain":["Mn","Mo"],"range":["M-1,0L1,0M0,-1L0,1","M-1,-1L1,1M-1,1L1,-1M0,-1.3L0,1.3"]}}}},
    {"data":{"name":"LG"},"mark":{"type":"text","fontWeight":"bold","fontSize":13},"encoding":{"text":{"field":"s"}}}
   ]}
 ],"spacing":0,"resolve":{"scale":{"x":"independent","y":"independent","color":"independent","shape":"independent"}}}
],"spacing":29,"resolve":{"scale":{"x":"independent","y":"independent","color":"independent","shape":"independent"}}}
]
}
